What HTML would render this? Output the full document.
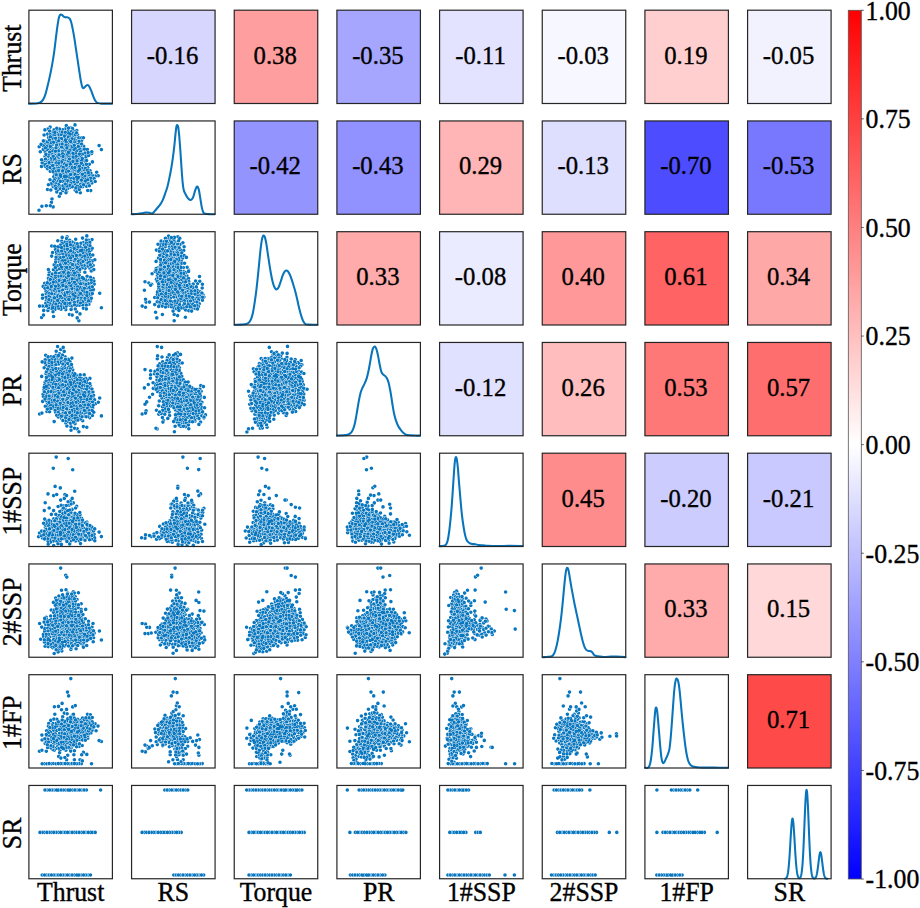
<!DOCTYPE html><html><head><meta charset="utf-8"><style>html,body{margin:0;padding:0;background:#fff;}svg{display:block;}text{font-family:"Liberation Serif",serif;stroke:#000;stroke-width:0.35px;}</style></head><body>
<svg width="920" height="908" viewBox="0 0 920 908">
<rect width="920" height="908" fill="#fff"/>
<rect x="131.57" y="10.20" width="83.5" height="93.3" fill="#d6d6ff"/>
<text transform="translate(172.52,63.65) scale(1,1.02)" font-size="24.7" text-anchor="middle">-0.16</text>
<rect x="234.24" y="10.20" width="83.5" height="93.3" fill="#ff9e9e"/>
<text transform="translate(275.19,63.65) scale(1,1.02)" font-size="24.7" text-anchor="middle">0.38</text>
<rect x="336.91" y="10.20" width="83.5" height="93.3" fill="#a6a6ff"/>
<text transform="translate(377.86,63.65) scale(1,1.02)" font-size="24.7" text-anchor="middle">-0.35</text>
<rect x="439.58" y="10.20" width="83.5" height="93.3" fill="#e3e3ff"/>
<text transform="translate(480.53,63.65) scale(1,1.02)" font-size="24.7" text-anchor="middle">-0.11</text>
<rect x="542.25" y="10.20" width="83.5" height="93.3" fill="#f7f7ff"/>
<text transform="translate(583.20,63.65) scale(1,1.02)" font-size="24.7" text-anchor="middle">-0.03</text>
<rect x="644.92" y="10.20" width="83.5" height="93.3" fill="#ffcfcf"/>
<text transform="translate(685.87,63.65) scale(1,1.02)" font-size="24.7" text-anchor="middle">0.19</text>
<rect x="747.59" y="10.20" width="83.5" height="93.3" fill="#f2f2ff"/>
<text transform="translate(788.54,63.65) scale(1,1.02)" font-size="24.7" text-anchor="middle">-0.05</text>
<rect x="234.24" y="120.95" width="83.5" height="93.3" fill="#9494ff"/>
<text transform="translate(275.19,174.40) scale(1,1.02)" font-size="24.7" text-anchor="middle">-0.42</text>
<rect x="336.91" y="120.95" width="83.5" height="93.3" fill="#9191ff"/>
<text transform="translate(377.86,174.40) scale(1,1.02)" font-size="24.7" text-anchor="middle">-0.43</text>
<rect x="439.58" y="120.95" width="83.5" height="93.3" fill="#ffb5b5"/>
<text transform="translate(480.53,174.40) scale(1,1.02)" font-size="24.7" text-anchor="middle">0.29</text>
<rect x="542.25" y="120.95" width="83.5" height="93.3" fill="#dedeff"/>
<text transform="translate(583.20,174.40) scale(1,1.02)" font-size="24.7" text-anchor="middle">-0.13</text>
<rect x="644.92" y="120.95" width="83.5" height="93.3" fill="#4d4dff"/>
<text transform="translate(685.87,174.40) scale(1,1.02)" font-size="24.7" text-anchor="middle">-0.70</text>
<rect x="747.59" y="120.95" width="83.5" height="93.3" fill="#7878ff"/>
<text transform="translate(788.54,174.40) scale(1,1.02)" font-size="24.7" text-anchor="middle">-0.53</text>
<rect x="336.91" y="231.70" width="83.5" height="93.3" fill="#ffabab"/>
<text transform="translate(377.86,285.15) scale(1,1.02)" font-size="24.7" text-anchor="middle">0.33</text>
<rect x="439.58" y="231.70" width="83.5" height="93.3" fill="#ebebff"/>
<text transform="translate(480.53,285.15) scale(1,1.02)" font-size="24.7" text-anchor="middle">-0.08</text>
<rect x="542.25" y="231.70" width="83.5" height="93.3" fill="#ff9999"/>
<text transform="translate(583.20,285.15) scale(1,1.02)" font-size="24.7" text-anchor="middle">0.40</text>
<rect x="644.92" y="231.70" width="83.5" height="93.3" fill="#ff6363"/>
<text transform="translate(685.87,285.15) scale(1,1.02)" font-size="24.7" text-anchor="middle">0.61</text>
<rect x="747.59" y="231.70" width="83.5" height="93.3" fill="#ffa8a8"/>
<text transform="translate(788.54,285.15) scale(1,1.02)" font-size="24.7" text-anchor="middle">0.34</text>
<rect x="439.58" y="342.45" width="83.5" height="93.3" fill="#e0e0ff"/>
<text transform="translate(480.53,395.90) scale(1,1.02)" font-size="24.7" text-anchor="middle">-0.12</text>
<rect x="542.25" y="342.45" width="83.5" height="93.3" fill="#ffbdbd"/>
<text transform="translate(583.20,395.90) scale(1,1.02)" font-size="24.7" text-anchor="middle">0.26</text>
<rect x="644.92" y="342.45" width="83.5" height="93.3" fill="#ff7878"/>
<text transform="translate(685.87,395.90) scale(1,1.02)" font-size="24.7" text-anchor="middle">0.53</text>
<rect x="747.59" y="342.45" width="83.5" height="93.3" fill="#ff6e6e"/>
<text transform="translate(788.54,395.90) scale(1,1.02)" font-size="24.7" text-anchor="middle">0.57</text>
<rect x="542.25" y="453.20" width="83.5" height="93.3" fill="#ff8c8c"/>
<text transform="translate(583.20,506.65) scale(1,1.02)" font-size="24.7" text-anchor="middle">0.45</text>
<rect x="644.92" y="453.20" width="83.5" height="93.3" fill="#ccccff"/>
<text transform="translate(685.87,506.65) scale(1,1.02)" font-size="24.7" text-anchor="middle">-0.20</text>
<rect x="747.59" y="453.20" width="83.5" height="93.3" fill="#c9c9ff"/>
<text transform="translate(788.54,506.65) scale(1,1.02)" font-size="24.7" text-anchor="middle">-0.21</text>
<rect x="644.92" y="563.95" width="83.5" height="93.3" fill="#ffabab"/>
<text transform="translate(685.87,617.40) scale(1,1.02)" font-size="24.7" text-anchor="middle">0.33</text>
<rect x="747.59" y="563.95" width="83.5" height="93.3" fill="#ffd9d9"/>
<text transform="translate(788.54,617.40) scale(1,1.02)" font-size="24.7" text-anchor="middle">0.15</text>
<rect x="747.59" y="674.70" width="83.5" height="93.3" fill="#ff4a4a"/>
<text transform="translate(788.54,728.15) scale(1,1.02)" font-size="24.7" text-anchor="middle">0.71</text>
<path d="M28.93,103.63C30.15,103.59 34.36,103.59 36.23,103.40C38.11,103.22 39.04,103.09 40.17,102.51C41.29,101.93 42.13,101.20 42.97,99.92C43.82,98.65 44.47,97.11 45.22,94.87C45.97,92.62 46.72,89.44 47.47,86.44C48.22,83.45 48.96,80.36 49.71,76.89C50.46,73.43 51.25,69.59 51.96,65.66C52.67,61.73 53.38,57.42 53.98,53.30C54.58,49.18 55.09,44.69 55.55,40.95C56.02,37.20 56.40,33.83 56.79,30.84C57.18,27.84 57.54,25.26 57.91,22.97C58.29,20.69 58.63,18.52 59.04,17.13C59.45,15.75 59.92,15.04 60.39,14.66C60.85,14.29 61.28,14.57 61.85,14.89C62.41,15.20 63.16,16.16 63.76,16.57C64.35,16.98 64.79,17.23 65.44,17.36C66.10,17.49 66.98,17.13 67.69,17.36C68.40,17.58 69.11,17.86 69.71,18.70C70.31,19.55 70.78,20.67 71.28,22.41C71.79,24.15 72.22,26.44 72.74,29.15C73.27,31.87 73.87,35.24 74.43,38.70C74.99,42.16 75.55,46.19 76.11,49.93C76.67,53.68 77.24,57.42 77.80,61.17C78.36,64.91 78.96,69.03 79.48,72.40C80.01,75.77 80.47,78.95 80.94,81.39C81.41,83.82 81.84,85.88 82.29,87.00C82.74,88.13 83.08,88.28 83.64,88.13C84.20,87.98 84.99,86.63 85.66,86.11C86.33,85.58 87.08,84.93 87.68,84.98C88.28,85.04 88.69,85.54 89.26,86.44C89.82,87.34 90.43,88.88 91.05,90.37C91.67,91.87 92.33,93.84 92.96,95.43C93.60,97.02 94.22,98.74 94.87,99.92C95.53,101.10 96.00,101.93 96.89,102.51C97.79,103.09 98.77,103.22 100.26,103.40C101.76,103.59 103.91,103.59 105.88,103.63C107.85,103.67 111.03,103.63 112.06,103.63" fill="none" stroke="#0874bb" stroke-width="2.05" stroke-linejoin="round" stroke-linecap="round"/>
<path d="M131.72,214.17C132.80,214.11 136.40,214.00 138.23,213.83C140.07,213.66 141.42,213.38 142.73,213.16C144.04,212.93 144.97,212.56 146.10,212.48C147.22,212.41 148.44,212.56 149.47,212.71C150.50,212.86 151.43,213.61 152.28,213.38C153.12,213.16 153.68,212.26 154.52,211.36C155.36,210.46 156.39,209.11 157.33,207.99C158.27,206.87 159.20,206.02 160.14,204.62C161.07,203.22 162.10,201.44 162.95,199.57C163.79,197.69 164.44,195.54 165.19,193.39C165.94,191.23 166.73,189.27 167.44,186.65C168.15,184.03 168.81,180.84 169.46,177.66C170.12,174.48 170.77,171.11 171.37,167.55C171.97,163.99 172.55,160.06 173.06,156.32C173.56,152.57 173.99,148.83 174.41,145.08C174.82,141.34 175.19,136.94 175.53,133.85C175.87,130.76 176.13,128.01 176.43,126.55C176.73,125.09 177.03,124.99 177.33,125.09C177.63,125.18 177.91,125.28 178.22,127.11C178.54,128.94 178.88,132.17 179.24,136.10C179.59,140.03 179.98,145.46 180.36,150.70C180.73,155.94 181.11,162.31 181.48,167.55C181.86,172.79 182.23,178.41 182.61,182.15C182.98,185.90 183.26,188.05 183.73,190.02C184.20,191.98 184.76,192.64 185.41,193.95C186.07,195.26 186.91,196.89 187.66,197.88C188.41,198.87 189.25,199.62 189.91,199.90C190.56,200.18 191.03,200.09 191.59,199.57C192.15,199.04 192.72,198.16 193.28,196.76C193.84,195.35 194.40,192.79 194.96,191.14C195.52,189.49 196.18,187.58 196.65,186.87C197.12,186.16 197.40,186.35 197.77,186.87C198.15,187.40 198.48,188.18 198.89,190.02C199.31,191.85 199.77,195.07 200.24,197.88C200.71,200.69 201.18,204.43 201.70,206.87C202.23,209.30 202.73,211.32 203.39,212.48C204.04,213.64 204.51,213.55 205.63,213.83C206.76,214.11 208.63,214.11 210.13,214.17C211.63,214.23 213.87,214.17 214.62,214.17" fill="none" stroke="#0874bb" stroke-width="2.05" stroke-linejoin="round" stroke-linecap="round"/>
<path d="M234.72,324.83C235.80,324.79 239.31,324.74 241.23,324.61C243.16,324.48 244.98,324.42 246.29,324.05C247.60,323.67 248.25,323.30 249.10,322.36C249.94,321.42 250.69,320.11 251.34,318.43C252.00,316.74 252.47,314.97 253.03,312.25C253.59,309.54 254.15,305.89 254.71,302.14C255.28,298.40 255.87,294.09 256.40,289.78C256.92,285.48 257.39,280.80 257.86,276.30C258.33,271.81 258.76,267.32 259.21,262.82C259.66,258.33 260.12,253.09 260.55,249.34C260.99,245.60 261.40,242.57 261.79,240.36C262.18,238.15 262.54,236.84 262.91,236.09C263.29,235.34 263.66,235.53 264.04,235.86C264.41,236.20 264.75,236.61 265.16,238.11C265.57,239.61 266.04,242.04 266.51,244.85C266.98,247.66 267.46,251.59 267.97,254.96C268.47,258.33 269.04,261.89 269.54,265.07C270.05,268.25 270.48,271.25 271.00,274.06C271.53,276.87 272.13,279.77 272.69,281.92C273.25,284.07 273.81,285.76 274.37,286.98C274.93,288.19 275.50,288.94 276.06,289.22C276.62,289.50 277.18,289.32 277.74,288.66C278.30,288.01 278.87,286.69 279.43,285.29C279.99,283.89 280.55,281.92 281.11,280.24C281.67,278.55 282.24,276.58 282.80,275.18C283.36,273.78 283.92,272.60 284.48,271.81C285.04,271.02 285.61,270.56 286.17,270.46C286.73,270.37 287.29,270.65 287.85,271.25C288.41,271.85 288.92,272.75 289.54,274.06C290.16,275.37 290.90,277.24 291.56,279.11C292.21,280.98 292.87,283.32 293.47,285.29C294.07,287.26 294.59,288.85 295.15,290.91C295.72,292.97 296.28,295.21 296.84,297.65C297.40,300.08 297.96,303.08 298.52,305.51C299.09,307.94 299.65,310.19 300.21,312.25C300.77,314.31 301.33,316.28 301.89,317.87C302.46,319.46 302.98,320.77 303.58,321.80C304.18,322.83 304.65,323.58 305.49,324.05C306.33,324.51 307.36,324.48 308.63,324.61C309.91,324.74 311.67,324.79 313.13,324.83C314.59,324.87 316.68,324.83 317.40,324.83" fill="none" stroke="#0874bb" stroke-width="2.05" stroke-linejoin="round" stroke-linecap="round"/>
<path d="M336.93,435.61C337.96,435.57 341.33,435.53 343.11,435.38C344.89,435.23 346.29,435.14 347.60,434.71C348.91,434.28 350.04,433.77 350.97,432.80C351.91,431.83 352.56,430.46 353.22,428.87C353.88,427.28 354.38,425.50 354.91,423.25C355.43,421.00 355.90,418.01 356.37,415.39C356.83,412.77 357.26,410.15 357.71,407.52C358.16,404.90 358.59,402.09 359.06,399.66C359.53,397.23 360.00,394.79 360.52,392.92C361.05,391.05 361.55,389.92 362.21,388.43C362.86,386.93 363.70,385.62 364.45,383.93C365.20,382.25 366.05,380.38 366.70,378.32C367.36,376.26 367.86,374.01 368.39,371.58C368.91,369.14 369.34,366.52 369.85,363.71C370.35,360.91 370.91,357.25 371.42,354.73C371.92,352.20 372.39,349.90 372.88,348.55C373.37,347.20 373.87,346.83 374.34,346.64C374.81,346.45 375.24,346.64 375.69,347.43C376.14,348.21 376.57,349.58 377.04,351.36C377.50,353.14 378.01,355.66 378.50,358.10C378.98,360.53 379.49,363.71 379.96,365.96C380.42,368.21 380.80,370.17 381.30,371.58C381.81,372.98 382.33,373.64 382.99,374.39C383.64,375.13 384.58,375.42 385.24,376.07C385.89,376.73 386.36,377.19 386.92,378.32C387.48,379.44 388.08,380.94 388.61,382.81C389.13,384.68 389.60,387.12 390.07,389.55C390.53,391.98 390.96,394.61 391.41,397.41C391.86,400.22 392.29,403.59 392.76,406.40C393.23,409.21 393.70,411.92 394.22,414.26C394.75,416.60 395.29,418.57 395.91,420.44C396.53,422.31 397.18,424.00 397.93,425.50C398.68,427.00 399.52,428.21 400.40,429.43C401.28,430.65 402.27,431.92 403.21,432.80C404.15,433.68 404.80,434.28 406.02,434.71C407.23,435.14 408.83,435.23 410.51,435.38C412.20,435.53 414.54,435.57 416.13,435.61C417.72,435.64 419.40,435.61 420.06,435.61" fill="none" stroke="#0874bb" stroke-width="2.05" stroke-linejoin="round" stroke-linecap="round"/>
<path d="M439.59,546.17C440.31,546.11 442.78,546.11 443.86,545.83C444.95,545.55 445.45,545.46 446.11,544.48C446.77,543.51 447.27,542.24 447.80,539.99C448.32,537.74 448.79,534.56 449.26,531.00C449.72,527.45 450.15,523.33 450.60,518.65C451.05,513.97 451.54,508.35 451.95,502.92C452.36,497.49 452.70,491.69 453.07,486.07C453.45,480.45 453.86,473.62 454.20,469.22C454.54,464.82 454.82,461.69 455.10,459.67C455.38,457.65 455.60,457.18 455.88,457.09C456.16,456.99 456.44,457.28 456.78,459.11C457.12,460.94 457.53,464.17 457.91,468.10C458.28,472.03 458.60,477.46 459.03,482.70C459.46,487.94 460.02,494.31 460.49,499.55C460.96,504.79 461.33,509.66 461.84,514.15C462.34,518.65 462.96,522.95 463.52,526.51C464.08,530.07 464.65,533.16 465.21,535.50C465.77,537.84 466.24,539.34 466.89,540.55C467.55,541.77 468.30,542.24 469.14,542.80C469.98,543.36 470.92,543.68 471.95,543.92C472.98,544.17 474.19,544.07 475.32,544.26C476.44,544.45 477.38,544.86 478.69,545.05C480.00,545.23 481.68,545.25 483.18,545.38C484.68,545.51 485.24,545.72 487.67,545.83C490.11,545.94 494.23,546.06 497.78,546.06C501.34,546.06 504.90,545.83 509.02,545.83C513.14,545.83 520.25,546.02 522.50,546.06" fill="none" stroke="#0874bb" stroke-width="2.05" stroke-linejoin="round" stroke-linecap="round"/>
<path d="M542.72,657.17C543.62,657.11 546.56,657.02 548.11,656.83C549.66,656.64 551.01,656.64 552.04,656.05C553.07,655.45 553.63,654.55 554.29,653.24C554.94,651.93 555.41,650.24 555.97,648.18C556.54,646.12 557.10,643.78 557.66,640.88C558.22,637.98 558.78,634.52 559.34,630.77C559.91,627.03 560.50,622.72 561.03,618.41C561.55,614.11 562.02,609.61 562.49,604.93C562.96,600.25 563.39,595.01 563.84,590.33C564.29,585.65 564.77,580.31 565.18,576.85C565.60,573.39 565.97,571.05 566.31,569.55C566.65,568.05 566.87,567.86 567.21,567.86C567.54,567.86 567.92,568.05 568.33,569.55C568.74,571.05 569.21,574.14 569.68,576.85C570.15,579.56 570.61,582.84 571.14,585.84C571.66,588.83 572.26,591.83 572.82,594.82C573.39,597.82 573.95,601.00 574.51,603.81C575.07,606.62 575.63,609.05 576.19,611.67C576.76,614.29 577.32,616.92 577.88,619.54C578.44,622.16 579.00,624.78 579.56,627.40C580.13,630.02 580.69,632.83 581.25,635.26C581.81,637.70 582.37,640.04 582.93,642.00C583.50,643.97 584.06,645.75 584.62,647.06C585.18,648.37 585.65,649.21 586.30,649.87C586.96,650.52 587.80,650.77 588.55,650.99C589.30,651.22 590.14,650.93 590.80,651.22C591.45,651.50 591.92,652.06 592.48,652.68C593.04,653.29 593.51,654.36 594.17,654.92C594.82,655.48 595.29,655.76 596.41,656.05C597.54,656.33 599.41,656.46 600.91,656.61C602.41,656.76 603.72,656.94 605.40,656.94C607.09,656.94 609.15,656.66 611.02,656.61C612.89,656.55 614.95,656.57 616.63,656.61C618.32,656.64 619.67,656.74 621.13,656.83C622.59,656.93 624.68,657.11 625.40,657.17" fill="none" stroke="#0874bb" stroke-width="2.05" stroke-linejoin="round" stroke-linecap="round"/>
<path d="M644.93,767.83C645.40,767.83 646.99,768.15 647.74,767.83C648.49,767.51 648.90,767.27 649.43,765.92C649.95,764.57 650.42,762.65 650.89,759.74C651.35,756.84 651.82,752.82 652.23,748.51C652.65,744.20 652.98,738.78 653.36,733.91C653.73,729.04 654.14,723.33 654.48,719.30C654.82,715.28 655.10,711.72 655.38,709.76C655.66,707.79 655.88,707.42 656.17,707.51C656.45,707.60 656.75,708.16 657.06,710.32C657.38,712.47 657.72,716.50 658.07,720.43C658.43,724.36 658.82,729.41 659.20,733.91C659.57,738.40 659.93,743.27 660.32,747.39C660.71,751.51 661.13,756.04 661.56,758.62C661.99,761.20 662.44,762.33 662.91,762.89C663.37,763.45 663.86,762.70 664.37,761.99C664.87,761.28 665.38,759.84 665.94,758.62C666.50,757.40 667.17,756.19 667.74,754.69C668.30,753.19 668.86,751.97 669.31,749.63C669.76,747.29 670.06,744.39 670.43,740.65C670.81,736.90 671.18,732.03 671.55,727.17C671.93,722.30 672.30,716.68 672.68,711.44C673.05,706.20 673.43,700.21 673.80,695.71C674.18,691.22 674.55,687.25 674.92,684.48C675.30,681.71 675.67,680.02 676.05,679.09C676.42,678.15 676.80,678.43 677.17,678.86C677.55,679.29 677.92,679.99 678.29,681.67C678.67,683.36 679.04,685.88 679.42,688.97C679.79,692.06 680.17,696.28 680.54,700.21C680.92,704.14 681.29,708.63 681.67,712.56C682.04,716.50 682.40,720.05 682.79,723.80C683.18,727.54 683.59,731.29 684.02,735.03C684.45,738.78 684.90,742.89 685.37,746.26C685.84,749.63 686.33,752.72 686.83,755.25C687.34,757.78 687.81,759.84 688.41,761.43C689.00,763.02 689.72,763.96 690.43,764.80C691.14,765.64 691.55,766.07 692.67,766.48C693.80,766.90 695.48,767.08 697.17,767.27C698.85,767.46 699.98,767.55 702.78,767.61C705.59,767.66 709.80,767.57 714.02,767.61C718.23,767.64 725.72,767.79 728.06,767.83" fill="none" stroke="#0874bb" stroke-width="2.05" stroke-linejoin="round" stroke-linecap="round"/>
<path d="M785.00,878.71 L785.34,878.62 L785.68,878.48 L786.01,878.26 L786.35,877.92 L786.69,877.41 L787.02,876.66 L787.36,875.61 L787.70,874.17 L788.04,872.25 L788.37,869.77 L788.71,866.67 L789.05,862.89 L789.38,858.47 L789.72,853.45 L790.06,847.98 L790.39,842.24 L790.73,836.52 L791.07,831.10 L791.41,826.31 L791.74,822.47 L792.08,819.83 L792.42,818.59 L792.75,818.84 L793.09,820.56 L793.43,823.63 L793.76,827.82 L794.10,832.85 L794.44,838.41 L794.78,844.17 L795.11,849.84 L795.45,855.18 L795.79,860.01 L796.12,864.23 L796.46,867.77 L796.80,870.67 L797.13,872.95 L797.47,874.69 L797.81,875.98 L798.15,876.90 L798.48,877.53 L798.82,877.93 L799.16,878.13 L799.49,878.17 L799.83,878.05 L800.17,877.74 L800.50,877.21 L800.84,876.38 L801.18,875.16 L801.52,873.44 L801.85,871.10 L802.19,868.01 L802.53,864.05 L802.86,859.14 L803.20,853.25 L803.54,846.42 L803.87,838.77 L804.21,830.53 L804.55,822.03 L804.89,813.68 L805.22,805.95 L805.56,799.31 L805.90,794.19 L806.23,790.97 L806.57,789.86 L806.91,790.97 L807.24,794.19 L807.58,799.31 L807.92,805.95 L808.26,813.68 L808.59,822.03 L808.93,830.53 L809.27,838.77 L809.60,846.42 L809.94,853.25 L810.28,859.14 L810.61,864.05 L810.95,868.01 L811.29,871.10 L811.63,873.45 L811.96,875.17 L812.30,876.40 L812.64,877.26 L812.97,877.83 L813.31,878.20 L813.65,878.42 L813.98,878.52 L814.32,878.54 L814.66,878.47 L815.00,878.30 L815.33,878.01 L815.67,877.56 L816.01,876.91 L816.34,876.00 L816.68,874.79 L817.02,873.22 L817.35,871.29 L817.69,869.00 L818.03,866.42 L818.37,863.63 L818.70,860.79 L819.04,858.08 L819.38,855.69 L819.71,853.82 L820.05,852.62 L820.39,852.21 L820.72,852.62 L821.06,853.82 L821.40,855.69 L821.74,858.08 L822.07,860.79 L822.41,863.63 L822.75,866.42 L823.08,869.00 L823.42,871.29 L823.76,873.22 L824.09,874.79 L824.43,876.00 L824.77,876.92 L825.11,877.57 L825.44,878.03 L825.78,878.34 L826.12,878.54 L826.45,878.66 L826.79,878.74 L827.13,878.78 L827.46,878.80" fill="none" stroke="#0874bb" stroke-width="2.05" stroke-linejoin="round" stroke-linecap="round"/>
<defs>
<path id="L0" d="M820 1497h0m-50-89h0m-64 165h0m-19-154h0m-17 170h0m-33-246h0m-71 67h0m-2-50h0m-36 81h0m10 327h0m6-35h0m24 187h0m16-28h0m227-181h0m-257 785h0m15 207h0m12-136h0m13 50h0m199 101h0m771 76h0m44-362h0m73 3h0m71 334h0m45-136h0m6 24h0m5-71h0m185 452h0m-59-139h0m-28-4h0m-15 29h0m-76 17h0m-47-128h0m-81 41h0m-15-36h0m-26 234h0m-17-23h0m-18-142h0m-150 134h0m-624-177h0m-2 20h0m-1 169h0m-9-101h0m-93-21h0m-29-100h0m-18 138h0m-126-109h0m-23 325h0m-46-256h0m-27 100h0m-6 543h0m115 44h0m2194-72h0m253 124h0m-23-8h0m-16-15h0m-117 42h0m-17-47h0m-10 27h0m-69 320h0m-46-218h0m-24-131h0m-102 153h0m-28 97h0m-787 9h0m-12-16h0m-17-53h0m-78 126h0m-190-89h0m-567 97h0m-53-2h0m-40-38h0m-134 96h0m-17-84h0m-18-215h0m-44 221h0m-3-149h0m-39-12h0m-29-37h0m-56 163h0m-13-254h0m-16 312h0m239 204h0m79 142h0m41-259h0m14 178h0m83-169h0m661 250h0m131-253h0m45-12h0m9 77h0m14 118h0m26-97h0m0 110h0m4-191h0m26 89h0m28 41h0m10-69h0m19 36h0m87-119h0m36 201h0m920-154h0m31 49h0m-2376 1052h0m60-108h0m17 100h0m1089-158h0m98-56h0m6 250h0m878-53h0m74 32h0m792-112h0m130 120h0m18-153h0m162 51h0m-34 229h0m-46-95h0m-75 124h0m-19-132h0m-720 84h0m-135-62h0m-15 33h0m-17 166h0m-3-174h0m-30 24h0m-63 45h0m-2 83h0m-162-141h0m-630 130h0m-10-125h0m-119-63h0m-916 123h0m-102-10h0m-37-93h0m-14 184h0m-55-113h0m-173-77h0m-12 153h0m3314 581h0m729 205h0m-610 235h0m-48-18h0m-11-163h0m-57 40h0m-19 117h0m-6-123h0m-61-21h0m-8-54h0m-18-12h0m-124 154h0m-25 77h0m-566-160h0m-60-41h0m-22-2h0m-39 18h0m-30 64h0m-58-32h0m-4 148h0m-2-266h0m-15 125h0m-35-203h0m-730 286h0m-11-46h0m-132-51h0m-3-42h0m-2 116h0m-64-198h0m-127 196h0m-177-29h0m-575-4h0m-19 85h0m-39-28h0m-122-135h0m-12-90h0m-56-34h0m-22 311h0m-17-9h0m-26-147h0m-14 111h0m-157 34h0m-2-24h0m139 127h0m133-58h0m106 23h0m1000-25h0m118 69h0m880-52h0m795-16h0m281 56h0m589 51h0m80-78h0m66 13h0m-879 616h0m-3198-3h0m-77 300h0m90 21h0m15-104h0m50 105h0m28-153h0m16 361h0m45-117h0m142-159h0m602 198h0m17-56h0m101-17h0m33-64h0m21-97h0m31 47h0m52-12h0m38 171h0m25-136h0m15-120h0m190 115h0m580 10h0m74 6h0m105-152h0m232 69h0m615 225h0m61-1h0m55-29h0m338-119h0m635-154h0m13 323h0m78-54h0m79-70h0m810-13h0m20 120h0m200-176h0m1002 565h0m-3169 0h0m-710 0h0m-483 0h0m-491-264h0m-161 1h0m-1231 687h0m1113 0h0m816 0h0m2100 0h0m1971 0h0m-3034 426h0m-3036 0h0"/>
<path id="L1" d="M593 1374h0m-141 61h0m157 254h0m15 64h0m7 39h0m16 19h0m81-50h0m155 16h0m84-55h0m-352 905h0m3-217h0m23 371h0m21-27h0m98-244h0m49 284h0m38-173h0m59-55h0m811 125h0m33 58h0m15-51h0m168 177h0m-3 208h0m-49-191h0m-48 163h0m-57 4h0m-80-238h0m-41 90h0m-80 8h0m-2 29h0m-706 45h0m-82 1h0m-103-126h0m-11-42h0m-115 247h0m-7 22h0m-45-141h0m-33 635h0m2562 259h0m-10-35h0m-66 185h0m-57-285h0m-17 141h0m-56 43h0m-65 89h0m-36-83h0m-48-292h0m-8 373h0m0-54h0m-41-300h0m-66 292h0m-682 21h0m-11-68h0m-76 25h0m-1-91h0m-111 97h0m-21-227h0m-7 73h0m-12 240h0m-41-96h0m-736 18h0m-77 72h0m-32-96h0m-103 32h0m-24 46h0m-71-63h0m-11-280h0m-48 154h0m-65 185h0m182 78h0m124 90h0m5 151h0m819-180h0m181-56h0m74 171h0m15-159h0m44 114h0m1163-171h0m-2549 1078h0m59-216h0m98 81h0m46 234h0m60-13h0m1145-11h0m665 25h0m1004-73h0m525 246h0m-38-118h0m-96 127h0m-27 10h0m-49 34h0m-223-200h0m-1 125h0m-75-63h0m-36 61h0m-590 44h0m-126-50h0m-47-68h0m-75 5h0m-150 144h0m-627 1h0m-1 49h0m-12-199h0m-50 197h0m-49-155h0m-33 36h0m-23-28h0m-835 18h0m-137-104h0m-199 91h0m-62 100h0m-76-44h0m100 614h0m2235-2h0m90-52h0m72-25h0m1916 308h0m-10-19h0m-204 139h0m-35-58h0m-5-210h0m-7-39h0m-15 348h0m-11-271h0m-30 252h0m-19-316h0m-7 22h0m-649 173h0m-33 105h0m-9-52h0m-30 114h0m-108-242h0m-17 72h0m-29-81h0m-14 139h0m-19-41h0m-2 121h0m-87-21h0m-589-259h0m-14 31h0m-79 97h0m-20-27h0m-60 108h0m-51 22h0m-211-34h0m-40-10h0m-477-247h0m-28-21h0m-110 141h0m-187 228h0m-4-85h0m-102 35h0m-103-83h0m-574 94h0m-63 35h0m0-188h0m-105-142h0m-105 205h0m-4 55h0m-66-87h0m-31-52h0m-44 13h0m-16 141h0m79 164h0m148-71h0m92 16h0m29 2h0m1142-17h0m14 44h0m31 9h0m600 29h0m394-87h0m805 1h0m1879 786h0m-1140-9h0m-778-33h0m-30 14h0m-870-2h0m-1078-102h0m-22 116h0m-58 20h0m-1153 41h0m69 75h0m57 64h0m2 129h0m42-141h0m11-116h0m0 52h0m12 53h0m72-8h0m82 39h0m8-167h0m23 115h0m597 76h0m118-159h0m40 104h0m42 29h0m55 79h0m35 4h0m69 78h0m12-78h0m592-182h0m95 241h0m27 11h0m10-50h0m71 23h0m16-116h0m19 77h0m48-64h0m35-60h0m39-119h0m21 13h0m69 43h0m56 85h0m587 106h0m33-85h0m58-137h0m11 40h0m49-6h0m55 13h0m6 69h0m36 87h0m777-111h0m1361 42h0m-107 253h0m-93 264h0m-92 0h0m-852-263h0m-3991 0h0m746 687h0m253 0h0m2178 0h0m2686 0h0m92 0h0m138 0h0m-2427 426h0m-676 0h0m-1129 0h0m-115 0h0m-568 0h0m-1408 0h0"/>
<path id="L2" d="M860 1556h0m-1 23h0m-22-117h0m-79-24h0m-37-1h0m-2 157h0m-8-317h0m-6 262h0m-49-251h0m-47 285h0m0-38h0m-29-46h0m-78 223h0m106 148h0m56-182h0m40 126h0m29-147h0m61 91h0m84-72h0m-343 1086h0m1072-304h0m11 83h0m66 34h0m74-75h0m25 123h0m247 325h0m-196 133h0m-1-98h0m-205-83h0m-60 279h0m-649-332h0m-73 89h0m-21 54h0m-31 62h0m-22-19h0m-293 71h0m2236 414h0m45 34h0m7 22h0m239 86h0m-48-27h0m-44 256h0m-11-201h0m-40 257h0m-59-109h0m-16-55h0m-3 95h0m-59-216h0m-33 285h0m-19-99h0m-38 43h0m-8-93h0m-7-123h0m-609 240h0m-368-200h0m-74 86h0m-126 80h0m-539-22h0m-16 60h0m-108-38h0m-36-30h0m-44 102h0m-28-150h0m-7-183h0m-61 378h0m-1-313h0m-42 52h0m-49 124h0m-5 83h0m-23-118h0m-1 245h0m164-58h0m15 19h0m6 229h0m228-81h0m25-33h0m528-103h0m17-23h0m278-12h0m195 53h0m12 23h0m15 96h0m18-146h0m540 250h0m46-130h0m12 99h0m10-123h0m26 2h0m33 26h0m160-71h0m-2121 967h0m42-24h0m1069 141h0m998 26h0m766-169h0m24 8h0m88 96h0m135 270h0m-21-151h0m-3-46h0m-261 53h0m-503 75h0m-146-42h0m-19-60h0m-171 144h0m-20 13h0m-11-180h0m-23 223h0m-633-108h0m-54-76h0m-143 89h0m-93-22h0m-809 63h0m-107-117h0m-6 113h0m-73-94h0m-263-4h0m3347 680h0m770-34h0m199 332h0m-128 15h0m-8 63h0m-35-244h0m-29 3h0m-4 121h0m-13 159h0m-11-49h0m-12-161h0m-9-23h0m-9 171h0m-486 12h0m-104-175h0m-22-9h0m-21 214h0m-27 39h0m-3-131h0m-15-226h0m-17 242h0m-8 22h0m-34 59h0m-21-251h0m-40 86h0m-58 53h0m-701-6h0m-53-24h0m0 156h0m-1-275h0m-13-65h0m-46 141h0m-88-151h0m-1 132h0m-49-74h0m-13 59h0m-6 35h0m-37 43h0m-77-101h0m-18 286h0m-612-45h0m-49-4h0m-84-15h0m0-191h0m-17 73h0m-91-45h0m-217 165h0m-541-5h0m-156-24h0m-1-181h0m-10 54h0m-24 161h0m-16-257h0m-76 96h0m-12-178h0m-3 294h0m-59-211h0m-7 365h0m99-19h0m32 63h0m1849-47h0m85-1h0m24 67h0m111-52h0m1123 43h0m658 684h0m-1597 1h0m-33-97h0m-2118 108h0m-35-8h0m-382 321h0m260-198h0m18-80h0m26 174h0m10 23h0m24-103h0m59 136h0m10-174h0m26 51h0m7 182h0m649-39h0m79-67h0m86-188h0m5 151h0m97-119h0m7 138h0m22 58h0m40 17h0m799-146h0m5 160h0m0-93h0m78 15h0m346-41h0m588 177h0m22-68h0m12 52h0m134-214h0m60 58h0m62-118h0m6-57h0m689 117h0m70 83h0m16 166h0m841-217h0m78-140h0m84 228h0m57-100h0m131 92h0m5 208h0m-3 263h0m-1141-264h0m-72 264h0m-2081 0h0m-92 424h0m1523 0h0m1860 0h0m-2139 426h0m-115 0h0m-23 0h0m-46 0h0m-761 0h0m-959 0h0m-971 0h0"/>
<path id="L3" d="M916 1535h0m-174-223h0m-60-10h0m-69 298h0m-32-14h0m-45-51h0m-8-216h0m-4 163h0m-14 78h0m-18 20h0m-4-143h0m44 430h0m33-48h0m53-176h0m14-25h0m99 229h0m62-216h0m30 95h0m-178 770h0m33 146h0m13 139h0m55-109h0m10-215h0m0 169h0m22 109h0m8-211h0m80-2h0m753 193h0m9-200h0m2-49h0m30 105h0m40-123h0m17 325h0m40-215h0m129 143h0m18 332h0m-55-65h0m-21 40h0m-77 43h0m-67 11h0m-195-232h0m-604-27h0m-39 208h0m-96-100h0m-111-71h0m-7 37h0m-21 30h0m-35 23h0m-56 51h0m-59-41h0m-2-30h0m1240 689h0m1253-3h0m18 382h0m-71-17h0m-31-218h0m-12 43h0m-47 82h0m-29 31h0m-16-210h0m-15-33h0m-20 269h0m-180-78h0m-706-6h0m-84-60h0m-93 35h0m-14 61h0m-119 7h0m-688 6h0m-176-181h0m-35 83h0m-142-159h0m0 373h0m151 155h0m15 69h0m100-184h0m121-24h0m872 241h0m19-132h0m55 113h0m100-206h0m624 105h0m89 44h0m33 85h0m241-244h0m-294 655h0m-744 0h0m-45-112h0m787 609h0m67-20h0m84 38h0m187-126h0m1028 151h0m-44 197h0m-47 13h0m-2-206h0m-63 54h0m-22-58h0m-27 153h0m-9-122h0m-50 29h0m-30-21h0m-31 128h0m-29-157h0m-7 26h0m-3 143h0m-632-19h0m-30 11h0m-22-166h0m-22 114h0m-12-125h0m-82-4h0m-66 0h0m-762 48h0m-64 56h0m-91-9h0m-96-17h0m-36 36h0m-5 87h0m-158-74h0m-697-58h0m-19 32h0m-231-78h0m-19-16h0m-56 83h0m215 614h0m2084 77h0m36-313h0m1808 301h0m282 328h0m-100 15h0m-20-51h0m-179-134h0m-24-45h0m-74-44h0m-30 213h0m-32 6h0m-569-15h0m-45-156h0m-42 236h0m-33 43h0m-16-192h0m-8 30h0m-18-35h0m-80 213h0m-34-89h0m-13 88h0m-12-91h0m0-101h0m-590-6h0m-71 162h0m-22-2h0m-26-159h0m-22-18h0m-31-134h0m-24 171h0m-120-97h0m-4 221h0m-31-182h0m-50-1h0m-138 236h0m-490-205h0m-12-31h0m-121 244h0m-75-309h0m-5 100h0m-56 65h0m-88 124h0m-18-140h0m-684 138h0m-27-78h0m-61 11h0m-13-99h0m-20-51h0m-106 80h0m-8-152h0m-19 169h0m-17-169h0m-1 278h0m-22-238h0m-129-29h0m105 409h0m3029-99h0m15 72h0m64 10h0m126-21h0m749-55h0m1251 651h0m-61 112h0m-7-48h0m-1184 51h0m-902-45h0m-19 61h0m-65-38h0m-699 37h0m-1196-66h0m-1256 382h0m17-121h0m66 89h0m21 1h0m182-163h0m104-51h0m28-19h0m704 91h0m8-102h0m134 150h0m840 177h0m112-300h0m38 58h0m21-83h0m79 74h0m228-37h0m510 276h0m63-88h0m103-40h0m123 128h0m76-160h0m571-14h0m12 63h0m51-188h0m0 118h0m24-96h0m1172 221h0m12 44h0m9-11h0m50-312h0m24 3h0m-699 416h0m-2472 263h0m-18-263h0m-1866-1h0m-206 688h0m322 0h0m23 0h0m1653 0h0m3176 0h0m-1072 426h0m-2173 0h0m-591 0h0m-1178 0h0"/>
<path id="L4" d="M776 1347h0m-51-62h0m-97 14h0m-2 286h0m-10-200h0m-91-26h0m-110 305h0m144 115h0m29-124h0m16 232h0m12-150h0m50 177h0m34-39h0m53-35h0m45-109h0m-154 729h0m127 312h0m11-113h0m112-60h0m37 55h0m654-73h0m46 210h0m13-86h0m161 78h0m9-169h0m181 151h0m-43 242h0m-71 8h0m-67-192h0m-38 155h0m0-95h0m0 273h0m-180-116h0m-7-153h0m-684 124h0m-22-106h0m-179-25h0m-33 24h0m-9 39h0m-14-31h0m-47 93h0m-39-61h0m-58-114h0m-18 15h0m76 667h0m8 61h0m1205-10h0m1217 151h0m-116 15h0m-28 197h0m-9-78h0m-27-150h0m-35-26h0m-5-16h0m-62 212h0m-27 25h0m-13-173h0m-84 113h0m-630 145h0m-63-48h0m-54-38h0m-35 70h0m-10-330h0m-47 119h0m-49 215h0m-29 9h0m-71-240h0m-54 3h0m-727 217h0m-85-174h0m-12-36h0m-37-69h0m-13 165h0m-46-174h0m-7 216h0m-8-75h0m-72-149h0m57 354h0m23 171h0m93 118h0m75-275h0m6 19h0m55 94h0m26-19h0m887-84h0m62 11h0m946 7h0m16 76h0m165-73h0m55-4h0m-2360 930h0m1196 188h0m81-147h0m21 117h0m12-52h0m53-151h0m527 174h0m69-67h0m389 140h0m633-105h0m30 35h0m162 136h0m-103 100h0m-3 26h0m-101-148h0m-20 60h0m-25 93h0m-65-151h0m-23 95h0m-450 47h0m-115-11h0m-26 4h0m-68-32h0m-5-86h0m-52 48h0m-51 81h0m-200-84h0m-461-51h0m-434 131h0m-20 13h0m-700-78h0m-270-93h0m-87 239h0m70 226h0m1144 0h0m1161 74h0m867-74h0m1113 584h0m-92-23h0m-50 154h0m-83-113h0m-160-108h0m-497 99h0m-43-125h0m-25 146h0m-92-69h0m-16 154h0m-67-244h0m-20 69h0m-16-85h0m-6 143h0m-18-10h0m-74-32h0m-33-217h0m-678 88h0m-73 226h0m-2-170h0m-196 144h0m-63 104h0m-2-375h0m-63 363h0m-682-264h0m-141-38h0m0 282h0m-24-118h0m-779 72h0m-81 29h0m-11-210h0m-41 6h0m-43 56h0m-97 84h0m-26-219h0m-2 252h0m-3-199h0m-18 278h0m-13-259h0m-63 234h0m88 129h0m1099-51h0m39-6h0m264 51h0m960-92h0m626 34h0m352 15h0m18-27h0m587 13h0m1333 721h0m-1249-88h0m-707 102h0m-85 2h0m-953-252h0m-1080 215h0m-916 7h0m-189-184h0m-65 75h0m-130 261h0m17 27h0m0-118h0m47 229h0m118-114h0m4 234h0m123 44h0m103-363h0m592 240h0m109-173h0m6 117h0m23 12h0m12-161h0m136 29h0m10 70h0m13 155h0m26-165h0m24 127h0m798 76h0m41-331h0m87 34h0m121-34h0m47 40h0m29-6h0m550 277h0m97-338h0m53 204h0m38-163h0m28 21h0m73 136h0m680 110h0m93-270h0m23 141h0m1-21h0m63 103h0m953-210h0m145 170h0m33-43h0m-2132 255h0m-1180 2h0m-657-2h0m-152-18h0m-988 20h0m-183 686h0m2228 0h0m810 0h0m276 0h0m692 0h0m69 0h0m23 0h0m1007 0h0m171 426h0m-1013 0h0m-115 0h0m-2626 0h0"/>
<path id="L5" d="M874 1495h0m-30-4h0m-36-33h0m-35 45h0m-25 17h0m-60-128h0m-33 141h0m-154-262h0m-43 352h0m155 44h0m33-11h0m28 89h0m49 32h0m141-38h0m118 18h0m-62 639h0m-298-22h0m-232-272h0m136 423h0m96 169h0m11-70h0m17-204h0m182 62h0m689 255h0m167-119h0m55-29h0m233 246h0m-23 249h0m-149-164h0m-61-103h0m-1 328h0m-96-159h0m-788-85h0m-84 21h0m-57-4h0m-6-87h0m0 263h0m-6-153h0m-106-11h0m-44-10h0m-78 6h0m-30-94h0m148 707h0m2351 392h0m-41-278h0m-21 177h0m-1-80h0m-29 59h0m-10 83h0m-52-208h0m-8-47h0m-9 197h0m-69-110h0m-57 132h0m-62 1h0m-32 86h0m-58 17h0m-580 34h0m-99-232h0m-5 45h0m-14-17h0m-17 172h0m-60-132h0m-12-19h0m-67 2h0m-41-148h0m-1040 116h0m-16-7h0m-33 46h0m-2 150h0m-64-119h0m170 289h0m74-78h0m65 11h0m46 83h0m14-26h0m772 12h0m403-75h0m796-27h0m48 87h0m104-96h0m-358 540h0m-2067 573h0m22-38h0m169 55h0m16-67h0m46-31h0m1009 125h0m19-126h0m69 69h0m92 63h0m53-13h0m530-23h0m135-94h0m55 23h0m898 33h0m19 26h0m11 44h0m9-105h0m22 15h0m25 92h0m64-49h0m189 122h0m-216 54h0m-15-84h0m-80 202h0m-50-174h0m-787-32h0m-14-9h0m-41 3h0m-20 52h0m-64-18h0m-16 12h0m-131 86h0m-30 36h0m-588-157h0m-77 55h0m-31-67h0m-107-15h0m-18 175h0m-941-131h0m-47-41h0m-307 156h0m357 563h0m41-3h0m1884-10h0m182 41h0m1657 16h0m58-65h0m88 447h0m-139-317h0m-16 296h0m-2 42h0m-624-238h0m-46 7h0m-84 132h0m-28-261h0m-25 182h0m-6 119h0m-13 37h0m-35-97h0m-21 77h0m-63 3h0m-608 42h0m-91-292h0m-17-26h0m-161 221h0m-87-55h0m-674-41h0m-93 124h0m-92-132h0m-46 219h0m-27-129h0m-770-57h0m-87-27h0m-76-9h0m-22 29h0m-1 57h0m-10-22h0m-40-219h0m-31 285h0m-27-78h0m-28 148h0m-117-93h0m36 182h0m1289-35h0m88-10h0m1767 31h0m42-37h0m131 14h0m115-5h0m596 38h0m7 324h0m36 248h0m-774 0h0m-13 145h0m-761-33h0m-18-220h0m-266 256h0m-948-152h0m-104 150h0m-760 13h0m-5-46h0m-261-16h0m-177 177h0m67 135h0m63-36h0m4 96h0m82-52h0m3-118h0m108-115h0m33 160h0m807 27h0m41 3h0m315 145h0m521-147h0m45 50h0m23-199h0m99 103h0m83-107h0m68-8h0m786 75h0m143-117h0m4 45h0m67 3h0m83 127h0m108-26h0m474 61h0m13 152h0m8-342h0m30 78h0m11 35h0m66-111h0m42 19h0m9 77h0m25 7h0m213 144h0m677-210h0m47 302h0m24-238h0m22-112h0m80 79h0m114 276h0m36-205h0m-230 271h0m-1037 1h0m-72 264h0m-20-262h0m-1923 262h0m-138 0h0m-1764 0h0m-234 424h0m1228 0h0m1322 0h0m1502 0h0m1329 0h0m849 0h0m-862 426h0m-5047 0h0m-276 0h0"/>
<path id="L6" d="M816 1405h0m-102-88h0m-70 269h0m-59-115h0m-15-136h0m-5 166h0m-26 120h0m21 50h0m11 199h0m14-124h0m60-28h0m35-61h0m8 31h0m144 126h0m69-106h0m6 198h0m-236 462h0m-178 355h0m149-72h0m105-11h0m3-208h0m32 210h0m69 41h0m701 33h0m22 41h0m7-82h0m74 62h0m38-267h0m37 242h0m53 0h0m12-181h0m74 383h0m-24 121h0m-19-188h0m-27 58h0m-21 54h0m-16-15h0m-11-18h0m-13 150h0m-18-128h0m-265 45h0m-625-28h0m-32-59h0m-2-90h0m-82 201h0m-46-23h0m-101-91h0m-103-49h0m-19 208h0m238 532h0m937-24h0m1053 15h0m313 272h0m-8-120h0m-8 104h0m-51-119h0m-54 145h0m-38-107h0m-80-143h0m-97 292h0m-16 33h0m-61 23h0m-4-253h0m-569 268h0m-64 9h0m-225-63h0m-24-228h0m-754 280h0m-34-194h0m-179 132h0m-19-297h0m-102 127h0m-72 276h0m171 62h0m21 50h0m36 79h0m69-115h0m789 38h0m232 104h0m20-171h0m90-64h0m717 1h0m19 1h0m107 98h0m64 49h0m42-104h0m-2366 1139h0m167-182h0m31 150h0m1015-77h0m16-71h0m101 169h0m48-174h0m700 193h0m38-333h0m4 326h0m6-75h0m11 68h0m0-98h0m33 101h0m878-275h0m2 269h0m67-7h0m61-21h0m6-96h0m138 157h0m-50 59h0m-1 54h0m-27-58h0m-111 42h0m-92 7h0m-588-85h0m-79 49h0m-162-23h0m-68 150h0m-15-184h0m-731 159h0m-29-108h0m-54 8h0m-72 161h0m-82-178h0m-18-41h0m-735 154h0m-5-37h0m-29-47h0m-85 57h0m-3-126h0m-34 180h0m-149-20h0m-93-150h0m-4 47h0m45 677h0m29 29h0m135-21h0m2073-31h0m128-166h0m803 210h0m777-3h0m49-36h0m150 359h0m-25-179h0m0-67h0m-44 152h0m-52 123h0m-9-329h0m-60 103h0m-586 209h0m-39-134h0m-60 128h0m-6 60h0m-24-58h0m-20-298h0m-1 83h0m-23 238h0m-26-94h0m-84-30h0m-35 116h0m-13-165h0m-579 87h0m-83-28h0m-90 44h0m-38-262h0m-56 139h0m-24 204h0m-27 11h0m-24-131h0m-17 52h0m-89 104h0m-40-88h0m-560-49h0m-51 134h0m-26-235h0m-57 220h0m-86-101h0m-24 69h0m-30 67h0m-51-305h0m-162 239h0m-668 42h0m-32-335h0m-85 237h0m-29-98h0m-20 205h0m-25-179h0m-8 63h0m-13 49h0m1200 110h0m698-15h0m7 38h0m1029 12h0m164-24h0m142 9h0m678 713h0m-21-97h0m-772 9h0m-805 90h0m-170 40h0m-990-132h0m-1340 367h0m24 40h0m32-58h0m70 47h0m55-4h0m216-158h0m102-63h0m611 132h0m94-119h0m8 65h0m185 53h0m815 19h0m25 69h0m7-157h0m39 131h0m999-36h0m107-186h0m141 157h0m518 118h0m100-177h0m5-104h0m25 336h0m1065-232h0m23 26h0m46 111h0m21 9h0m16-231h0m32 33h0m6 110h0m-989 271h0m-161 1h0m-49 263h0m-23 0h0m-727 0h0m-1009 0h0m-1966-263h0m-470 1h0m2528 686h0m741 0h0m1939 426h0m-2818 0h0m-2367 0h0"/>
<path id="L7" d="M804 1514h0m-19-70h0m-35-195h0m-4 165h0m-54 66h0m-207-104h0m-5-86h0m-25 122h0m220 372h0m50-146h0m27 265h0m60-77h0m32-198h0m7 156h0m-362 967h0m23 24h0m56-229h0m52 231h0m23-102h0m11-100h0m2 158h0m13-215h0m46 249h0m12-147h0m59-45h0m46-149h0m100 360h0m720-318h0m13 238h0m53 26h0m32-311h0m4 307h0m116 32h0m-16 413h0m-118-268h0m-180 218h0m-652-202h0m-74-111h0m-22 44h0m-32 119h0m-89-167h0m-62 243h0m-12-167h0m-127-74h0m-28 224h0m2355 556h0m148 360h0m-12-104h0m0 26h0m-22 1h0m-111-50h0m-96 173h0m-17-194h0m-78 70h0m-73-77h0m-28 68h0m-715-129h0m-16-127h0m-56 283h0m-32-46h0m-39 50h0m-33-9h0m-19-70h0m-40 102h0m-17-45h0m-705 113h0m-6-132h0m-25-65h0m-27-7h0m-99-121h0m-30 211h0m-2-111h0m-1 143h0m-39-185h0m-16 187h0m-16-138h0m-60 190h0m-72-306h0m-63 491h0m228-117h0m86 245h0m91-169h0m857-89h0m38 146h0m84 0h0m131-28h0m81 0h0m705-50h0m122-48h0m42-24h0m-2258 1182h0m1242-85h0m38-3h0m116 55h0m612-78h0m40 69h0m261-100h0m700 138h0m143-39h0m34 24h0m24 12h0m17-112h0m-121 147h0m-2 116h0m-5-92h0m-15 149h0m-51 0h0m-7-55h0m-707 59h0m-17-92h0m-140 74h0m-31-70h0m-28 127h0m-16-140h0m-48 13h0m-111-79h0m-575 71h0m-83 63h0m-23 62h0m-17-195h0m-6 100h0m-95-56h0m-75 69h0m-768 22h0m-21-142h0m-204 59h0m-64 129h0m4462 684h0m-315 243h0m-99-106h0m-2 79h0m-2-227h0m-36 306h0m-26-131h0m-2-186h0m-3 223h0m-43-111h0m-552 125h0m-31 39h0m-124-294h0m-57 65h0m-38-31h0m-39 40h0m-1 120h0m-154 149h0m-632-255h0m-107 46h0m-8 164h0m-121-135h0m-73-15h0m-34 57h0m-3 60h0m-569 79h0m-23-153h0m-119 79h0m-18-177h0m-5 90h0m-812 165h0m-161-212h0m-64 141h0m-100 39h0m-26-77h0m-23 38h0m-84-70h0m-17 108h0m-88 95h0m383-3h0m1075-48h0m899-9h0m62 47h0m760 23h0m13-41h0m2099 711h0m-2796-84h0m-1186 130h0m-46-229h0m-990 192h0m-305 351h0m0-151h0m44 66h0m24-181h0m36 22h0m102 92h0m82 161h0m37 86h0m17-151h0m839-165h0m111 82h0m11-29h0m21-57h0m22 57h0m33-75h0m764 144h0m11 20h0m25-26h0m22 19h0m28 15h0m97-76h0m46-51h0m22-52h0m95 190h0m12-200h0m554 39h0m168 109h0m38 120h0m130-84h0m65-194h0m50 121h0m36-81h0m542 17h0m12 213h0m13-256h0m39 236h0m47-75h0m46-68h0m1104-109h0m117 46h0m12 17h0m28 39h0m-1258 568h0m-66-262h0m-72 262h0m-497 0h0m-23 0h0m-445-264h0m-1024 264h0m-1718 0h0m-304-263h0m3338 687h0m905 0h0m909 0h0m1125 0h0m-885 426h0m-276 0h0m-92 0h0m-714 0h0m-1113 0h0m-3059 0h0m-161 0h0"/>
<path id="L8" d="M768 1306h0m-18 67h0m-144 115h0m-16-140h0m-28-46h0m-78 260h0m-8-221h0m-84 127h0m135 135h0m78 122h0m30-51h0m4 69h0m-125 281h0m20 674h0m5 98h0m73-196h0m21 160h0m8-151h0m26-7h0m39-67h0m23 47h0m27 75h0m7 43h0m18 90h0m15-12h0m28-230h0m23-9h0m0-35h0m29 69h0m688-72h0m35 237h0m67-62h0m58 112h0m1-322h0m0 137h0m23-81h0m19 56h0m53 170h0m19-34h0m161 204h0m-48 64h0m-20-142h0m-73 100h0m-12-49h0m-21-9h0m-51 17h0m-121 171h0m-22-63h0m-137 14h0m-674-142h0m-11 125h0m-37-62h0m-20-49h0m-35 67h0m-63-137h0m918 764h0m101-11h0m1351 421h0m-9-39h0m-18-213h0m-84 248h0m-10-369h0m-26 186h0m-7 152h0m-6 21h0m-111-200h0m-65 179h0m-53-193h0m-861-11h0m-20 161h0m-34-150h0m-102 212h0m-22-293h0m-26 142h0m-121-134h0m-688 58h0m-52 127h0m-82 52h0m-81-132h0m-27-121h0m-58 328h0m59-7h0m68 105h0m307-99h0m756 107h0m156 150h0m15-178h0m9 87h0m9 39h0m113-53h0m639 40h0m203-178h0m-150 564h0m-2007 566h0m27-195h0m1053 219h0m308-51h0m583-121h0m78-122h0m33 289h0m880-62h0m4-101h0m67 152h0m116-220h0m207 424h0m-21-78h0m-97-18h0m-9 98h0m-3-124h0m-47 61h0m-94 24h0m-207-46h0m-746 59h0m-32 14h0m-122-111h0m-748-38h0m-21 52h0m-48 97h0m-117-12h0m-171 25h0m-692-86h0m-173 46h0m-170 1h0m193 665h0m4167 237h0m-94-30h0m-57 8h0m-50-21h0m-23-68h0m-30 277h0m-15-380h0m-707 330h0m-11-156h0m-44-137h0m-35 265h0m-54-35h0m-60-61h0m-67 136h0m-60-35h0m-477 53h0m-20-39h0m-7-25h0m-67 7h0m-44-34h0m-100-166h0m-6 108h0m-230 46h0m-64 81h0m-472-108h0m-137 58h0m-18 96h0m-9-29h0m-7-51h0m-22-285h0m-44 167h0m-20-173h0m-9 361h0m-25-141h0m-29 32h0m-42 1h0m-1 78h0m-71-7h0m-816-2h0m-46-106h0m-284 123h0m1199 108h0m144-25h0m144-19h0m616-12h0m85-19h0m901 132h0m158-18h0m2064 678h0m-1139-136h0m-822 90h0m-88-15h0m-864 43h0m-1127-59h0m-1250 148h0m170 93h0m21 9h0m17 23h0m11 68h0m55-20h0m119-78h0m792 25h0m25-133h0m8 297h0m2-279h0m29 98h0m21-2h0m60-64h0m42-14h0m139 109h0m538 6h0m11 23h0m50 132h0m47 24h0m8-365h0m75 72h0m61 142h0m93-141h0m54-78h0m3 208h0m656 39h0m5-189h0m24 144h0m61-138h0m19 118h0m13-58h0m16-26h0m11 109h0m45 22h0m4-191h0m27 24h0m90-4h0m596 275h0m29-269h0m8 219h0m22-59h0m66-230h0m950 377h0m23-12h0m43-121h0m2-92h0m2 114h0m224-233h0m293 102h0m-438 297h0m-3029 264h0m-46 0h0m-721-265h0m-23 3h0m-121 262h0m-780 0h0m-377-264h0m4421 1114h0m-2284 0h0m-1907 0h0"/>
<path id="L9" d="M918 1518h0m-102-78h0m-23 46h0m-69 21h0m-21-136h0m-250 292h0m21 23h0m69 113h0m376 30h0m34-68h0m785 639h0m-1254 296h0m39 44h0m156-324h0m6 201h0m30 100h0m94-284h0m59 167h0m37 173h0m762-47h0m30 42h0m7-93h0m63-55h0m17 166h0m187 114h0m-38 119h0m-200-141h0m-849 103h0m-125-107h0m-22 3h0m-12-58h0m-67 277h0m-7-208h0m-48-39h0m-63 94h0m-11-56h0m-3 114h0m-22 82h0m1213 498h0m25-374h0m951 267h0m114 84h0m105 32h0m70 366h0m-15-171h0m-9 105h0m-12-117h0m-27 168h0m-93-273h0m-50 284h0m-71-206h0m-11 75h0m-57 146h0m-23-250h0m-129 195h0m-508 37h0m-70 28h0m-43-38h0m-42-309h0m-76 198h0m-5-43h0m-58 18h0m-7 55h0m-79-219h0m-11 117h0m-791 133h0m-31 64h0m-17-41h0m-99 68h0m-13-107h0m-82 53h0m-63-261h0m-71 466h0m137-9h0m127 93h0m114-92h0m69-23h0m812 84h0m154-155h0m65 132h0m33-153h0m17 24h0m646 13h0m83 89h0m72-128h0m183 6h0m23 66h0m713 493h0m-3104 618h0m57-92h0m59 70h0m32-127h0m11 135h0m1062-35h0m73-83h0m1708 114h0m332-128h0m95 214h0m-59 31h0m-17 71h0m-53-75h0m-66 130h0m-1-26h0m-23-100h0m-13 14h0m-23 71h0m-10-63h0m-81 5h0m-167-15h0m-537 63h0m-209-102h0m-2 73h0m-93-114h0m-43 18h0m-983 92h0m-162 53h0m-677-124h0m-90 3h0m-68-24h0m-90 7h0m-16 13h0m-2-46h0m192 755h0m71 28h0m989-9h0m2786-60h0m203 185h0m0 39h0m-160 184h0m-71-119h0m-13 18h0m-539-23h0m-86 45h0m-164-119h0m-79-33h0m-687 58h0m-17 48h0m-51-76h0m-8-55h0m-64 233h0m-1-169h0m-27 169h0m-24-99h0m-6 162h0m-58-82h0m-83-186h0m-2 122h0m-568 142h0m-207-205h0m-13 208h0m-55-300h0m-315 263h0m-456-26h0m-155-34h0m-5-43h0m-19-27h0m-28 50h0m-25-187h0m-50 270h0m-6-322h0m-19 318h0m-59-145h0m-28 79h0m-5-94h0m-16-125h0m-77 218h0m-14 75h0m-11-60h0m82 145h0m38 7h0m19 48h0m7-29h0m23 6h0m100-14h0m1874-8h0m8 80h0m3-53h0m22 6h0m22-25h0m973 65h0m130-72h0m848 745h0m-1995 5h0m-1805-8h0m-405 219h0m134-65h0m119-66h0m155 50h0m45-40h0m140 136h0m600-193h0m17-12h0m89 37h0m55 349h0m48-320h0m680 65h0m48-2h0m4-26h0m58 44h0m82 15h0m133-10h0m12 50h0m58-162h0m57-37h0m31 115h0m22-44h0m0 80h0m560 82h0m90-16h0m67 139h0m124-327h0m18 78h0m95 51h0m46 27h0m9-18h0m510 176h0m32-272h0m1003 126h0m37-78h0m94 89h0m137-36h0m90 3h0m909 512h0m-92 0h0m-168 0h0m-1949-262h0m-899-2h0m-932 264h0m-934 0h0m-207 0h0m-1106 0h0m6433 424h0m-1138 426h0m-276 0h0m-829 0h0m-161 0h0m-1989 0h0m-775 0h0m-1293 0h0"/>
<path id="L10" d="M739 1590h0m-8-232h0m-58 141h0m-27-17h0m-126-81h0m-70 164h0m-6 77h0m33-1h0m9-39h0m99 202h0m42 103h0m19-209h0m5-88h0m3 143h0m20 53h0m1 34h0m253-81h0m-444 1023h0m111-96h0m19 36h0m66-142h0m62 193h0m29-285h0m129 196h0m681 95h0m49-214h0m35 191h0m2 28h0m24-287h0m12 153h0m134-146h0m162 467h0m-43-161h0m-119 141h0m-5-86h0m-179-9h0m-1 24h0m-58 69h0m-139 123h0m-566-30h0m-43-217h0m-152 320h0m-82-113h0m-98-129h0m-8 103h0m-80-56h0m-10 225h0m373 32h0m986 320h0m1015 48h0m33 146h0m-25 80h0m-12-52h0m-73 25h0m-90 222h0m-58-5h0m-634-56h0m-45 45h0m-60-13h0m-49-184h0m-7 15h0m-17 52h0m-36 98h0m-7-252h0m-15 56h0m-41-21h0m-8 167h0m-151 74h0m-617-7h0m-149 24h0m-105-160h0m-21 125h0m-2-130h0m-21 92h0m-36-26h0m-13-143h0m-100 195h0m152 103h0m57-9h0m41 133h0m137-124h0m40-17h0m45 61h0m52-52h0m638-27h0m111-4h0m793 36h0m106 241h0m138-232h0m95-3h0m139 10h0m40-29h0m27 17h0m-2506 910h0m75 98h0m1101-11h0m17 75h0m94-15h0m766 31h0m56 43h0m992-74h0m60 60h0m69 7h0m259 108h0m-60 64h0m-35-122h0m-99 132h0m-90-52h0m-19 94h0m-209-74h0m-497-10h0m-53-5h0m-22 27h0m-284-21h0m-37 5h0m-735-54h0m-173 90h0m-836-77h0m-9 39h0m-62 122h0m-75-110h0m-25-69h0m-40 137h0m-28-140h0m-39-34h0m-9 41h0m-89 45h0m177 625h0m1310-11h0m758 69h0m1040-3h0m22-305h0m1106 610h0m-284 86h0m-12-206h0m-40 23h0m-8 173h0m-81-312h0m-473 175h0m-19 22h0m-80-131h0m-59 151h0m-19-201h0m-85-13h0m-18 300h0m-95-115h0m-80 73h0m-645-81h0m-44 93h0m-176-4h0m-11-13h0m-20-62h0m-100-43h0m-645 183h0m-37-142h0m-5-155h0m-40 293h0m-28-262h0m-42 185h0m-10-103h0m-54 75h0m-23-120h0m-85 236h0m-820-120h0m-42-214h0m-64 100h0m-94 66h0m-4 125h0m-12-65h0m-77 99h0m-17 22h0m36-1h0m228-1h0m32 81h0m932-56h0m39 41h0m806 62h0m33-69h0m39 18h0m3085 608h0m-86 87h0m-2753-76h0m-1052 87h0m-1219-126h0m-66 335h0m123-2h0m100-50h0m22-42h0m40-30h0m62-75h0m788 240h0m150 1h0m693-96h0m51-60h0m24 39h0m26 255h0m170-200h0m79-120h0m151 4h0m592 301h0m174-140h0m246 27h0m11-150h0m451 81h0m30-66h0m50 0h0m9 99h0m29 47h0m41-201h0m122 101h0m908 74h0m82-155h0m17-8h0m2 124h0m52 4h0m6-94h0m74 17h0m72 45h0m932 531h0m-1103-264h0m-23 1h0m-150-34h0m-887 33h0m-4198-1h0m-115 2h0m139 687h0m299 0h0m1998 0h0m741 0h0m2044 0h0m161 0h0m364 0h0m400 426h0m-892 0h0m-1059 0h0m-92 0h0m-1989 0h0m-660 0h0m-1454 0h0"/>
<path id="L11" d="M849 1530h0m-182-145h0m-31 74h0m-35-27h0m-101-90h0m-26 75h0m-40 40h0m85 232h0m17 156h0m47-78h0m134-108h0m7 208h0m185-134h0m-219 737h0m20 92h0m32 232h0m0-236h0m50 195h0m19-172h0m74-179h0m28 308h0m649-25h0m49-275h0m127 31h0m3 341h0m36-276h0m51 73h0m21 182h0m124 210h0m-172 42h0m-12-76h0m-16-22h0m-60 152h0m-787-154h0m-61-100h0m-24 103h0m-199 159h0m-22-138h0m-91 127h0m-5 22h0m24 506h0m103-25h0m1084-14h0m21-16h0m1225 264h0m-147 5h0m-10 75h0m-28 72h0m-9-26h0m-34-22h0m-23-112h0m-39-14h0m-13-30h0m-12 17h0m-72 173h0m0-303h0m-10 252h0m-9-117h0m-31 139h0m-710-111h0m-13 110h0m-5 30h0m-20 7h0m-21-6h0m-53-285h0m-13-31h0m-6 41h0m-20-37h0m-44 138h0m-31 18h0m-16 22h0m-9-89h0m-717 176h0m-42 32h0m-50-78h0m-135-12h0m-73 42h0m-31 58h0m-39-232h0m-36 35h0m65 319h0m12 29h0m128 64h0m16-48h0m38 105h0m21-132h0m169-9h0m841 132h0m10-25h0m53-66h0m40-74h0m3 85h0m10 113h0m28-166h0m14 132h0m52-58h0m60-66h0m653 98h0m99-145h0m124 63h0m-909 607h0m-1544 410h0m280 91h0m1094-46h0m24-20h0m13-147h0m174 109h0m709 71h0m125-163h0m843 129h0m57-14h0m17-115h0m126 138h0m85 193h0m-83-89h0m-75 89h0m-17 109h0m-152-180h0m-9 24h0m-117 3h0m-556 52h0m-18-92h0m-140 108h0m-27-13h0m-17-129h0m-41 23h0m-195 36h0m-51 82h0m-477 31h0m-4-44h0m-140-31h0m-1 88h0m-197 15h0m-8-96h0m-68-54h0m-102 91h0m-605-65h0m-220 34h0m-24-90h0m-221 146h0m1339 523h0m2089 75h0m1070 367h0m-62 6h0m-74 2h0m-111-44h0m-37-253h0m-85 14h0m-28-60h0m-49 312h0m-579-231h0m-30 95h0m-109 161h0m-8-221h0m-197 235h0m-636-54h0m-179-178h0m-43 71h0m-25-100h0m-7 282h0m-12-292h0m-704 171h0m-49-10h0m-36 127h0m-54-219h0m-342 113h0m-551 59h0m-59-78h0m-132-135h0m-1 22h0m-88 252h0m-47-370h0m-19 94h0m-4-91h0m-13 27h0m-16 343h0m-22-202h0m-1 119h0m-107 80h0m1252 13h0m98 5h0m883 15h0m235-8h0m773 34h0m74 11h0m787-31h0m1257 679h0m-11 65h0m-2018-216h0m-86 224h0m-2001-31h0m-984-58h0m-130 207h0m196-97h0m190 13h0m500 296h0m410 84h0m810-277h0m0 70h0m14 19h0m15 165h0m6-48h0m41-303h0m44-5h0m12 129h0m29-110h0m71 16h0m93-24h0m776 208h0m22-218h0m74 184h0m32-151h0m15 141h0m65-154h0m37 105h0m592-49h0m34 49h0m46 14h0m929-46h0m31 207h0m55-96h0m7-145h0m4 196h0m58-228h0m12 176h0m36-91h0m-251 569h0m-1720 0h0m-77-264h0m-61 264h0m-77-262h0m-38-12h0m-549 274h0m-253 0h0m-276 424h0m4285 426h0m-1260 0h0m-1781 0h0m-230 0h0"/>
<path id="L12" d="M991 1456h0m-189 133h0m-70-255h0m-51 30h0m-68-20h0m-28 110h0m-38-107h0m-98-48h0m57 309h0m269 77h0m135 121h0m-491 257h0m178 478h0m57 147h0m38 22h0m30-164h0m58 146h0m83-291h0m52 230h0m709 33h0m76-103h0m2-155h0m84 334h0m15-296h0m18 189h0m179 180h0m-13 252h0m-175-207h0m-15 188h0m-14-39h0m-174-150h0m-60 189h0m-97-229h0m-6 86h0m-510-8h0m-28 5h0m-6-45h0m-229-45h0m-16 203h0m0-169h0m-45 248h0m-3-24h0m-6-244h0m-59 79h0m-110-39h0m127 690h0m41 45h0m2012-13h0m83-1h0m321 135h0m-92 48h0m-14 158h0m-7-89h0m-17-196h0m-30 200h0m-53 60h0m-11-77h0m-51-121h0m-75 255h0m-19-26h0m-70-126h0m-17 84h0m-821-190h0m-30 42h0m-80 102h0m-74 2h0m-824 21h0m-29-82h0m-3 127h0m-7 21h0m-54-325h0m-65 216h0m-104 291h0m114 11h0m141 49h0m26 62h0m72-226h0m20 149h0m31-79h0m760-64h0m146 95h0m78 154h0m74-130h0m19 75h0m570-103h0m67-97h0m8 87h0m21 78h0m168-174h0m85 48h0m-2302 895h0m85 147h0m1072 54h0m124-142h0m44 195h0m86-288h0m11 211h0m658-94h0m922 123h0m43-3h0m25 17h0m47-181h0m327 323h0m-90 10h0m-76-13h0m-148-23h0m-109 122h0m-535-26h0m-12-107h0m-198-42h0m-127 114h0m-740-103h0m0 144h0m-78-23h0m-963-50h0m-227-105h0m-11 234h0m-5-85h0m-65-2h0m-1-77h0m-169 62h0m130 663h0m3143-5h0m76-11h0m869-81h0m-17 159h0m-14 184h0m-44 48h0m-12-246h0m-44 217h0m-6 76h0m-586 30h0m-1-126h0m-72 46h0m-180 37h0m-22-161h0m-66 104h0m-29 23h0m-633-163h0m-224-23h0m-11 175h0m-70 61h0m-43-209h0m-59 90h0m-640 104h0m-94-277h0m-7 263h0m-37-84h0m-20 118h0m-31-195h0m-82 174h0m-48-29h0m-161-64h0m-614 95h0m-62-178h0m-49-20h0m-19 145h0m-23-122h0m-29 100h0m-9 102h0m-37-201h0m-1 167h0m-48-36h0m-71 147h0m70-3h0m70 36h0m239-44h0m912 18h0m171 63h0m633 19h0m39-61h0m1111 26h0m86-19h0m106-60h0m60 17h0m599-7h0m1281 759h0m-1269-109h0m-40 89h0m-31 40h0m-1788 1h0m-1786-24h0m-196-106h0m-100 99h0m-61 198h0m9 63h0m11-163h0m17 94h0m32-43h0m24 134h0m8-110h0m65-95h0m7 301h0m3-287h0m37-21h0m41 55h0m160-33h0m728-53h0m58 360h0m763-87h0m157-62h0m37-158h0m86-44h0m127 158h0m21-55h0m719-76h0m142-33h0m19 107h0m105-35h0m573 301h0m8-381h0m10 210h0m87 41h0m0-160h0m167 62h0m135 118h0m714 64h0m52-41h0m23 20h0m14-281h0m0 260h0m115-199h0m92 73h0m-2019 530h0m-1372-265h0m-749 3h0m-1047 686h0m883 0h0m23 0h0m46 0h0m931 0h0m4255 0h0m-200 426h0m-23 0h0m-846 0h0m-92 0h0m-1013 0h0m-929 0h0m-2042 0h0"/>
<path id="L13" d="M740 1393h0m-44 57h0m-90 62h0m-4-201h0m-31 226h0m-56 45h0m0-43h0m-74-189h0m183 464h0m37-182h0m85 82h0m71 43h0m18-152h0m0 64h0m943 699h0m-98 11h0m-1163 182h0m42 37h0m15 60h0m0 79h0m23-1h0m25-302h0m50 267h0m40-1h0m150-55h0m710 64h0m37-89h0m124 49h0m42-142h0m200 562h0m-78-101h0m-10-117h0m-21 7h0m-75-66h0m-33 154h0m-36-53h0m-17 11h0m-3 32h0m-25-65h0m-16-91h0m-89 218h0m-809 37h0m-84-206h0m-85 60h0m-1 73h0m-33 8h0m65 560h0m991-76h0m189 70h0m1203 353h0m-7 79h0m-55-360h0m-113 84h0m-9 91h0m-9-47h0m-15 139h0m-3-276h0m-133 265h0m0-43h0m-28 5h0m-25-17h0m-607 137h0m-50-16h0m-89-92h0m-10 72h0m-59 3h0m-33-300h0m-122 335h0m-91-243h0m-703 212h0m-113 38h0m-20-1h0m-68-212h0m-32 37h0m-31 75h0m-4-148h0m-48 203h0m30 155h0m173 19h0m24 62h0m55-75h0m966-47h0m23 144h0m142 24h0m35-115h0m67-7h0m622 126h0m74-52h0m23-72h0m900 619h0m-3132-15h0m70 196h0m1133 135h0m32 31h0m98 39h0m42-21h0m63 102h0m614 33h0m41-142h0m1054 5h0m42 59h0m7-242h0m176 500h0m-62-8h0m-110 51h0m-864-92h0m-173-6h0m-70-54h0m-22 71h0m-43-54h0m-25 122h0m-61-137h0m-13 109h0m-501 37h0m-105-55h0m-4-53h0m-116 96h0m-47-103h0m-771-31h0m-2 122h0m-160-192h0m-208 126h0m-62 45h0m1231 380h0m2843 189h0m322 322h0m-70-75h0m-68 81h0m-73 78h0m-10-251h0m-37-57h0m-28 276h0m-589-123h0m-23 144h0m-17-43h0m-48 3h0m-204-252h0m-58 234h0m-183-6h0m-506-254h0m-64 33h0m-41 58h0m-6 23h0m-5 208h0m-2 57h0m-7-100h0m-73-73h0m-17-141h0m-22 220h0m-9-156h0m-920 147h0m-24-136h0m-66-49h0m-48 112h0m-8-26h0m-74 182h0m-717-78h0m-36-154h0m-96-128h0m-111 105h0m-13-23h0m-4 45h0m-17 101h0m1082 192h0m920-18h0m1016 19h0m70 12h0m159-46h0m13 26h0m624 102h0m17-58h0m100 643h0m-819 14h0m-41-62h0m-45 23h0m-3236 295h0m94 115h0m3-88h0m46-64h0m13 39h0m14-21h0m128 27h0m50-142h0m3 144h0m69 147h0m861-281h0m103 53h0m754-12h0m50 210h0m42-77h0m31-187h0m32 126h0m76 165h0m69-230h0m2 16h0m6 40h0m137-42h0m700-83h0m43 30h0m17 297h0m65-139h0m165-24h0m471-159h0m44 114h0m9-137h0m30-23h0m83 182h0m50-95h0m20 148h0m854-152h0m65 309h0m14-314h0m56 139h0m26-104h0m77-30h0m21 121h0m1136 495h0m-3164-264h0m-15 264h0m-138 0h0m-981-263h0m-864-2h0m-1369 689h0m207 0h0m46 0h0m745 0h0m1092 0h0m253 0h0m787 0h0m483 0h0m508 0h0m2002 0h0m160 426h0m-23 0h0m-961 0h0m-898 0h0m-299 0h0m-1667 0h0m-92 0h0"/>
<path id="L14" d="M1014 1496h0m-298-9h0m-88-66h0m-3 62h0m-3-162h0m-68 233h0m-79 341h0m117-110h0m114-5h0m20-51h0m104 52h0m13-54h0m17 108h0m44-54h0m20-162h0m-56 740h0m-293 439h0m52-59h0m132 7h0m42-277h0m44 130h0m65-96h0m716 186h0m13-154h0m138-92h0m26 55h0m207 453h0m-36-1h0m-45 45h0m-81 8h0m-89-134h0m-10-30h0m-44 145h0m-17 58h0m-102-180h0m-679 100h0m-210 91h0m-54-84h0m-56-19h0m0 133h0m-8-255h0m-14 142h0m-43 72h0m2531 848h0m-118 89h0m-34 2h0m0-113h0m-91 62h0m-44-6h0m-85-113h0m-7-25h0m-60 143h0m-68-56h0m-12-186h0m-572 230h0m-185-189h0m-34 134h0m-10 98h0m-7-239h0m-7 72h0m-35 35h0m-79 12h0m-29 10h0m-630 147h0m-187-165h0m-51 154h0m-122-204h0m-92 18h0m-21 133h0m-2 55h0m-20-166h0m-24 192h0m169 48h0m59 116h0m113-117h0m83-52h0m32 149h0m744-56h0m28-19h0m81 133h0m35-209h0m134 99h0m608-20h0m43-35h0m8 30h0m13 150h0m16-166h0m44-48h0m28 231h0m66-126h0m23-17h0m34-23h0m66-10h0m-2191 984h0m1140 63h0m62 39h0m17-103h0m677 95h0m70-42h0m134-152h0m99 180h0m733 25h0m312 57h0m-62 13h0m-197 111h0m-41-2h0m-20 9h0m-36-81h0m-548-6h0m-205 6h0m-95-33h0m-8 110h0m-48-20h0m-1-55h0m-34 175h0m-7-187h0m-19 36h0m-1 87h0m-46-85h0m-522 5h0m-224-91h0m-9 100h0m-150-70h0m-179 109h0m-556-93h0m-43-29h0m-143 180h0m-37-65h0m-42-139h0m-64 170h0m-10-20h0m-55 68h0m-8-24h0m3271 602h0m1035 265h0m-28 30h0m-49-63h0m-31 7h0m-2-53h0m-126-138h0m-9 198h0m-585 122h0m-4-136h0m-90 84h0m-16-103h0m-70-107h0m-24-83h0m-22 280h0m-26 69h0m-142-263h0m-689 185h0m-22 68h0m-45-329h0m-23 229h0m-6-159h0m-52 83h0m-29 17h0m-60 31h0m-5 133h0m-676-75h0m-180-124h0m-26-46h0m-7-110h0m-11 100h0m-5-27h0m-52 118h0m-85 54h0m-836 103h0m-23-50h0m-87-72h0m-62-195h0m-63 81h0m-15 100h0m-19 71h0m-37-100h0m46 269h0m34 6h0m164 317h0m913-386h0m2120 68h0m751-19h0m102 472h0m-9 171h0m-854 80h0m-768-80h0m-1193-166h0m-48 232h0m-832 19h0m-321 15h0m-76 160h0m75-47h0m195 39h0m13-87h0m107 81h0m777-138h0m96 349h0m34-1h0m5-133h0m82 0h0m742 27h0m17-22h0m204-40h0m27-29h0m746 2h0m60 233h0m7-203h0m16 32h0m25 119h0m25-76h0m62-165h0m37 169h0m95-24h0m28-104h0m17-75h0m542 132h0m87-119h0m18 68h0m10-116h0m14 199h0m935-23h0m102-23h0m55-168h0m115 332h0m-206 97h0m-115 0h0m-1813 262h0m-1096-271h0m-1866 8h0m-161-1h0m-46 1h0m-92 0h0m346 687h0m138 0h0m515 0h0m1552 0h0m902 0h0m1653 0h0m138 0h0m-568 426h0"/>
<path id="L15" d="M788 1377h0m-36-32h0m-110 163h0m-46-218h0m-25 143h0m-45-52h0m-84 224h0m77 25h0m13 188h0m146-177h0m112 157h0m23-135h0m52 199h0m821 499h0m-1085 286h0m15 25h0m38-117h0m18-13h0m11 146h0m15 62h0m9-18h0m115-168h0m76-140h0m682 18h0m51 313h0m17-251h0m12 19h0m24 113h0m355 335h0m-308 140h0m-55-125h0m-3-114h0m-49 273h0m-735-204h0m-16-63h0m-23 104h0m-28-74h0m-11 65h0m-32-145h0m-102 145h0m-14 88h0m-19-67h0m-19-72h0m30 670h0m1094-10h0m1136 86h0m-37 306h0m-3-295h0m-42 44h0m-62 96h0m-6 30h0m-23 103h0m-14-111h0m0-141h0m-5-42h0m-23-4h0m-19 295h0m-29-203h0m-813 249h0m-6-124h0m-35-130h0m-40 69h0m-38 76h0m-109-227h0m-652 262h0m-34 28h0m-22-153h0m-7 33h0m-32 165h0m-180 1h0m-7-368h0m-45 247h0m-22-187h0m-5 120h0m-8 189h0m-103-278h0m32 399h0m82-33h0m91-33h0m30 51h0m3 71h0m14-166h0m17 49h0m16 125h0m23 0h0m4-72h0m31 80h0m887-171h0m85 179h0m2-109h0m11-78h0m55 62h0m50-35h0m81 124h0m21-155h0m605 18h0m390 52h0m-1183 955h0m93 152h0m733-110h0m29 87h0m39-113h0m855 151h0m2-66h0m24-5h0m87 61h0m309 115h0m-33 81h0m-45-42h0m-77 40h0m-53 26h0m-890 16h0m-10-175h0m-15 134h0m-68-60h0m-120 16h0m-10-51h0m-105-58h0m-648 95h0m-61-88h0m-40 131h0m-56-25h0m-27-94h0m-2 174h0m-54-172h0m-801 124h0m-157-20h0m-35 13h0m3230 530h0m632 52h0m281 394h0m-46 5h0m-62-92h0m-25-169h0m-682 216h0m-55-38h0m-48 69h0m-101-263h0m-34 224h0m-31-150h0m-36 154h0m-18-157h0m-156 227h0m-595-229h0m-24 204h0m-56-91h0m-196-128h0m-17 63h0m-636-83h0m-6 239h0m-74-31h0m-80-36h0m-48-138h0m-61-124h0m-904 311h0m-42 70h0m-35-22h0m-19-124h0m-16 5h0m-5 125h0m-18-63h0m-97 37h0m-47-81h0m-14-250h0m1350 431h0m70 22h0m18-55h0m741 36h0m1010 41h0m1876 287h0m-2728 365h0m-22 47h0m-1066-12h0m-52-265h0m-1052 264h0m-132 89h0m18-17h0m25 225h0m7-152h0m13-110h0m59-12h0m3 220h0m56-202h0m74 95h0m24 78h0m95-97h0m628-11h0m87 75h0m44-70h0m14 172h0m42-239h0m80 187h0m111-2h0m671 22h0m25 104h0m11-199h0m36 258h0m38-51h0m18-144h0m18-119h0m152-11h0m1 73h0m661 145h0m3 99h0m54-21h0m44-224h0m130-127h0m10 186h0m20-67h0m9 19h0m820 137h0m8-242h0m41 42h0m121 171h0m736-188h0m25 214h0m128-97h0m89 32h0m51 24h0m11-26h0m-1031 211h0m-2949 265h0m-109-263h0m-75 263h0m-973-264h0m-46 0h0m-18 264h0m-138 0h0m-46 0h0m203 424h0m1113 0h0m862 0h0m230 0h0m115 0h0m3703 0h0m161 0h0m-223 426h0m-1053 0h0m-2841 0h0"/>
<path id="L16" d="M886 1555h0m-125-17h0m-136-23h0m-149 147h0m22-15h0m96-35h0m50 25h0m10 149h0m108-58h0m5 189h0m10-289h0m1021 755h0m-1234 140h0m84 185h0m18 66h0m56 15h0m122-339h0m10 346h0m23-322h0m725 310h0m54-135h0m26 41h0m46-165h0m1-37h0m31 156h0m26-236h0m32 120h0m0 268h0m23-329h0m17 328h0m13-122h0m-14 426h0m-6-174h0m-56 32h0m-122-111h0m-42 79h0m-689-84h0m-73 113h0m-26 77h0m-47-162h0m-8 24h0m-108-3h0m-56-85h0m-128 130h0m-44 663h0m155-103h0m35 19h0m2233-50h0m91 203h0m-15 80h0m-190-38h0m-69 25h0m-80-88h0m-613 245h0m-99 23h0m-131-85h0m-4 140h0m-92-213h0m-9 80h0m-37-217h0m-51 79h0m-677 179h0m-66 89h0m-31-61h0m-59 23h0m-67-293h0m-194 216h0m-42 47h0m35 143h0m67 175h0m111-6h0m49-175h0m30-13h0m56 49h0m91 94h0m918-71h0m22-75h0m65 231h0m155-71h0m553-4h0m28 77h0m85-216h0m0 58h0m14-34h0m25 19h0m895 506h0m-2912 113h0m-165-127h0m-110 456h0m1528 118h0m59-62h0m517-9h0m28 99h0m55 26h0m12-101h0m100 87h0m127-20h0m758 25h0m112-327h0m99 301h0m-48 125h0m-12 19h0m-63-86h0m-12 199h0m-21-101h0m-172 23h0m-465 43h0m-117-184h0m-21 44h0m-195-11h0m-89 106h0m-17-45h0m-91 90h0m-5-116h0m-555-54h0m-66 29h0m-8-30h0m-22 113h0m-12-113h0m-39 131h0m-30-89h0m-19 80h0m-153-29h0m-601 58h0m-298-133h0m-120 140h0m-21-55h0m-48-43h0m-66 19h0m-66 36h0m265 568h0m2336 0h0m671 20h0m106 49h0m873-36h0m166-250h0m10 689h0m-65-209h0m-25 95h0m-54-96h0m-80-20h0m-5 27h0m-27 107h0m-37 4h0m-29 79h0m-15-149h0m-454 3h0m-114 189h0m-20-139h0m-41-103h0m-43 31h0m-10-158h0m-10 176h0m-3 103h0m-1-32h0m-80-199h0m-690 200h0m-118 115h0m-28-88h0m-89-133h0m-91 86h0m-97 95h0m-99-31h0m-603-167h0m-100 95h0m-179 63h0m-747-35h0m-102 41h0m-48-100h0m-14-106h0m-17 184h0m-20 42h0m-23-96h0m-17-96h0m-11 237h0m-66-44h0m-8-97h0m-62 66h0m-36 109h0m60 24h0m159 4h0m959-17h0m2232 46h0m637-64h0m1271 657h0m-2052-148h0m-839 38h0m-190 229h0m-1840 10h0m-302-7h0m-54 230h0m33-47h0m87-95h0m14 17h0m8 117h0m2 24h0m82-105h0m99 33h0m25-133h0m82 47h0m13-40h0m716 68h0m866 71h0m53 108h0m57-218h0m15 27h0m191 207h0m2-201h0m65-93h0m29 121h0m24-83h0m71 14h0m512 317h0m80-295h0m287 25h0m10 32h0m158-12h0m454 205h0m43-264h0m15 167h0m9-22h0m78-15h0m55-54h0m906-2h0m40 136h0m36-126h0m204 60h0m-1125 226h0m-276-1h0m-2696 263h0m-63-263h0m-6 263h0m-1106 0h0m3126 424h0m2205 0h0m849 0h0m-3910 426h0m-1074 0h0m-1385 0h0"/>
<path id="L17" d="M881 1526h0m-160-139h0m-13 75h0m-44-119h0m-5 217h0m-14-137h0m-58-15h0m-25 164h0m-58-205h0m-10 132h0m-43 15h0m-29 114h0m69-3h0m94 217h0m3-116h0m5 236h0m83-77h0m33-51h0m40-231h0m4 24h0m24 193h0m63-125h0m904 679h0m-1281-317h0m79 592h0m54 139h0m40-65h0m48-51h0m14-21h0m13-51h0m14 69h0m36 54h0m836-235h0m83 309h0m18 0h0m11-179h0m25 119h0m22 56h0m8-119h0m5-204h0m64 205h0m130 194h0m-31 61h0m-44 178h0m-52-285h0m-96 206h0m-17-219h0m-19 32h0m-282 219h0m-525-185h0m-68 177h0m-11-105h0m-37 66h0m-38 6h0m-116-120h0m-43 126h0m-31-142h0m-9 93h0m-11-131h0m-34 192h0m2370 534h0m150 292h0m-3-72h0m-11-16h0m-10 106h0m-9-118h0m-47-38h0m-28 183h0m-13-138h0m-18 11h0m-33 167h0m-26-107h0m-26-187h0m-65 117h0m-2-141h0m-5 200h0m-17 77h0m-54 89h0m-55-307h0m-19-14h0m-733 312h0m-30-99h0m-27-33h0m-156-170h0m-28 248h0m-699 54h0m-7-152h0m-42-54h0m-28 38h0m-27-19h0m-2 138h0m-17 0h0m-32-131h0m-20 23h0m-40 136h0m-24-12h0m-76 26h0m-122-20h0m-18 30h0m105 28h0m59 39h0m310 96h0m759-77h0m215 139h0m671-11h0m76-131h0m12 31h0m275-8h0m-2337 1055h0m161-72h0m1269 77h0m550-78h0m247 105h0m1064 96h0m-293-32h0m-120 23h0m-541-5h0m-159 134h0m-79-127h0m-891 10h0m-28 99h0m-24-18h0m-186 28h0m-773-104h0m-50-60h0m-32 106h0m-53 418h0m2214-71h0m92 290h0m767-22h0m66-25h0m34-153h0m17 164h0m843 329h0m-35 116h0m-16-171h0m-54 18h0m-7-78h0m-45 94h0m-3 134h0m-472-170h0m-29 58h0m-15 75h0m-93 40h0m-23-76h0m-48-257h0m-85 37h0m-9 243h0m-18-287h0m-260 241h0m-418 66h0m-56-185h0m-25 132h0m-6-100h0m-129-90h0m-108 65h0m-20-128h0m-14 353h0m-55-227h0m-14-69h0m-809 192h0m0-35h0m-2 17h0m-14 89h0m-54-69h0m-131 1h0m-688 15h0m-202-267h0m-5 322h0m-147-162h0m-134-17h0m310 217h0m1753 52h0m283-38h0m806 49h0m1021-21h0m2-28h0m1108 742h0m-1143-12h0m-29-8h0m-3823 5h0m-252 186h0m109-88h0m17 208h0m23-187h0m22 5h0m42 11h0m24 118h0m144-54h0m726-21h0m141 89h0m47 97h0m4 21h0m184-121h0m502-23h0m206 164h0m86-123h0m1-122h0m142 6h0m57 88h0m644-95h0m17 71h0m26 152h0m16-141h0m6-64h0m10 169h0m9-28h0m226 48h0m612-54h0m44-132h0m52 167h0m12-93h0m62 66h0m28-60h0m895-168h0m9 67h0m50 151h0m99-95h0m22 0h0m199 35h0m14-63h0m-263 308h0m-1959-2h0m-817 265h0m-23 0h0m-230 0h0m-113-277h0m-1835 277h0m-189-264h0m-160 688h0m2274 0h0m925 0h0m1975 0h0m1148 0h0m427 0h0m-2417 426h0m-115 0h0m-1943 0h0m-1999 0h0"/>
<path id="L18" d="M792 1569h0m-78-44h0m-51-269h0m-62 193h0m-106-139h0m-1 91h0m68 206h0m1 104h0m64-2h0m31 186h0m2 33h0m25-162h0m19-41h0m87-115h0m65 74h0m28 154h0m9-195h0m-308 1119h0m159-232h0m38 25h0m47-31h0m5 116h0m15 82h0m15-291h0m49 234h0m649 36h0m16 33h0m57-103h0m10-30h0m51 147h0m8-229h0m34 48h0m49 34h0m6-30h0m64 154h0m167 278h0m-51-75h0m-57 183h0m-5-44h0m-21-1h0m-8-20h0m-167-3h0m-94 18h0m-21-238h0m-603 109h0m-58-122h0m-27 15h0m-10 185h0m-33 20h0m-44-11h0m-31-71h0m-62-104h0m-9 21h0m-3 130h0m-141 66h0m-97-44h0m94 449h0m36 113h0m2335 330h0m-15 45h0m-46-77h0m-43-48h0m-102-90h0m-16-51h0m-19 201h0m-13-130h0m-82 93h0m-11 21h0m-87-28h0m-755-124h0m-38 256h0m-151-211h0m-63-17h0m-691 129h0m-84-150h0m-39 164h0m-10-67h0m-6 31h0m-71-143h0m-17-73h0m-8-20h0m-163 144h0m134 338h0m10-53h0m14-39h0m115 184h0m16 38h0m942-89h0m322-92h0m539 32h0m40 15h0m10 20h0m138-60h0m121 48h0m-2338 833h0m1316 144h0m187 17h0m559 79h0m64-19h0m121-103h0m957 116h0m123-172h0m68 196h0m53 70h0m-160 82h0m-24-96h0m-68 28h0m-92 98h0m-602-86h0m-155 3h0m-124 104h0m-100-32h0m-578 47h0m-174-71h0m-94-53h0m-50-53h0m-74 89h0m-805 59h0m-137-3h0m-9-99h0m-3 16h0m-17-93h0m-37 118h0m-44 25h0m-33-142h0m-93 45h0m2353 673h0m57 60h0m853-60h0m908 61h0m129-218h0m46 435h0m-85 1h0m-60-40h0m-779 225h0m-44-186h0m-84 170h0m-16-63h0m-6-106h0m-68-12h0m-60 24h0m-45 75h0m-561-84h0m-99 69h0m-19-222h0m-4 340h0m-68-331h0m-15-25h0m-25 15h0m-10 191h0m-8 45h0m-40 15h0m-80-92h0m-586-102h0m-104 177h0m-38 87h0m-58-303h0m-33 157h0m-16 120h0m-36 29h0m-34-144h0m-73-1h0m-786 153h0m-50-293h0m-53-3h0m-132 248h0m-9-13h0m-113-79h0m110 158h0m97 72h0m123-3h0m1128-69h0m766 31h0m25 2h0m1793 39h0m27-44h0m-44 527h0m-806 232h0m-827-77h0m-64 71h0m-1045-43h0m-1034-86h0m-224 438h0m55-107h0m6 49h0m172-167h0m12 54h0m16-18h0m794-9h0m86-76h0m30 181h0m2-55h0m8-49h0m60 82h0m5-99h0m47 96h0m6 70h0m749 10h0m21-235h0m22 88h0m47 151h0m89-92h0m111-150h0m49 200h0m100-75h0m552 180h0m80-227h0m93-6h0m9 32h0m44-46h0m9-16h0m59 225h0m30-120h0m707 142h0m39-128h0m71 46h0m888 5h0m109-208h0m10 94h0m120 1h0m43 101h0m9-22h0m3-169h0m915 673h0m-1287-265h0m-463 2h0m-390-1h0m-125-12h0m-582 276h0m-3076 424h0m1722 0h0m69 0h0m1017 0h0m207 0h0m2044 0h0m-2415 426h0m-1766 0h0m-1086 0h0m-46 0h0"/>
<path id="L19" d="M817 1377h0m-36 215h0m-47-37h0m-4-22h0m-28-192h0m-20-13h0m-4 115h0m-62 24h0m-1 90h0m-49-104h0m-21 131h0m5 64h0m10 191h0m142-166h0m5 30h0m32 114h0m17-173h0m17-1h0m100 61h0m17 44h0m-301 842h0m21 170h0m111-339h0m5 95h0m16 91h0m41-10h0m11 73h0m8-163h0m12 97h0m7-103h0m103 108h0m717-190h0m6 349h0m64-227h0m4-117h0m3 157h0m60 67h0m241 282h0m-50 122h0m-85-109h0m-54-21h0m-63 104h0m-134-76h0m-4-80h0m-82 105h0m-747 164h0m-46-282h0m-163-52h0m-15 201h0m-46 111h0m-42-59h0m-63-75h0m84 584h0m2220-15h0m154 394h0m-14-233h0m-88-12h0m-18 164h0m-15 70h0m-19 40h0m-24-42h0m-45-44h0m-1-85h0m-25-153h0m-42 100h0m-4-29h0m-672 187h0m-197-49h0m-49-255h0m-798 257h0m-93-35h0m-7 155h0m-17-204h0m-80 204h0m-30-80h0m-14-94h0m-19-182h0m-19 170h0m-43 69h0m-31-218h0m-8 77h0m72 445h0m69-107h0m100 54h0m53-101h0m29 251h0m726 17h0m65-216h0m105-66h0m119 141h0m55-136h0m717 90h0m9-16h0m16 143h0m90-200h0m99-8h0m-833 570h0m-1386 582h0m93-41h0m107 56h0m1105-23h0m104-57h0m817 91h0m893-43h0m266 134h0m-253-7h0m-44 24h0m-31-61h0m-29 121h0m-125-145h0m-10 83h0m-511 25h0m-122 72h0m-80-96h0m-201 8h0m-11 18h0m-39 60h0m-32-69h0m-615-6h0m-10 117h0m-16-146h0m-218-9h0m-238 104h0m-547-133h0m-151 69h0m-49-82h0m-2 24h0m-98 158h0m-81-178h0m-6 207h0m-2-31h0m189 554h0m1123-34h0m1948-11h0m814 47h0m84 321h0m-81 96h0m-1-92h0m-618-102h0m-38 44h0m-15-47h0m-82 163h0m-27-105h0m-63 72h0m-59 59h0m-33-196h0m-40 17h0m-605 66h0m-59-98h0m-95 196h0m-22-29h0m0-323h0m-19 266h0m-20-145h0m-7 64h0m-6-85h0m-14 114h0m-3 21h0m-50-51h0m-77 116h0m-109 44h0m-523 24h0m-19-149h0m-155-42h0m-64 146h0m-18-119h0m-61-81h0m-762 149h0m-5 110h0m-87-152h0m-172-212h0m-106 311h0m-27-132h0m372 201h0m1833 31h0m105 348h0m47-361h0m985 26h0m784 694h0m-4001 186h0m73 148h0m30-214h0m902 193h0m113-147h0m4 24h0m18-44h0m71 228h0m764-198h0m18 238h0m85-213h0m23 4h0m20-84h0m6 67h0m77 3h0m27-49h0m12-12h0m78 29h0m67 8h0m490 100h0m38 62h0m23-127h0m23 133h0m20-42h0m29-212h0m59 330h0m7-314h0m2 191h0m110-195h0m44 68h0m23 39h0m7-67h0m27 44h0m105 4h0m438 135h0m107 47h0m8-276h0m12 159h0m1017-164h0m20 221h0m29-207h0m27-5h0m17 204h0m31-75h0m127-38h0m59-18h0m111 63h0m80-10h0m-282 538h0m-206-262h0m-1744 262h0m-2196 0h0m-922 0h0m-5-264h0m4036 688h0m1001 0h0m833 426h0m-915 0h0m-2979 0h0m-115 0h0"/>
<path id="L20" d="M823 1543h0m-58-216h0m-10 256h0m-71-15h0m-41-129h0m-2 112h0m-15-14h0m-44-13h0m-3 38h0m-105-64h0m-3-34h0m-60-20h0m89 353h0m106 139h0m24-334h0m18 270h0m16-219h0m1 67h0m5-22h0m42-11h0m91 240h0m2-82h0m13-165h0m-265 1092h0m54-197h0m77 154h0m140-52h0m43-128h0m1118 450h0m-115-162h0m-95 4h0m-12 246h0m-39-251h0m-89 7h0m-938 127h0m-59-33h0m-8 78h0m-32-145h0m-96 16h0m18 705h0m2197-17h0m295 31h0m-7 235h0m-86 11h0m-39 144h0m-47-6h0m-2-64h0m-73-77h0m-9-164h0m-53 302h0m-49-316h0m-16-68h0m-35 197h0m-45 164h0m-663-4h0m-7-139h0m-30 0h0m-57-143h0m-27 217h0m-105 51h0m-131-117h0m-720 164h0m-9-243h0m-75-52h0m-4 239h0m-10-138h0m-15-32h0m-7 102h0m-4-136h0m-45-9h0m-48 116h0m0-108h0m-16 0h0m-26 22h0m-10 67h0m-6 20h0m-50 75h0m-33 147h0m156 24h0m25 35h0m250-72h0m99-27h0m652 184h0m32-150h0m15-22h0m160 59h0m40-39h0m108 132h0m20-87h0m598-18h0m20 78h0m69 55h0m16-201h0m285-11h0m-2359 1174h0m28 4h0m1095-42h0m227-182h0m640 179h0m10-190h0m63 211h0m849-68h0m37-143h0m364 336h0m-81 54h0m-24-70h0m-156 147h0m-93-203h0m-95 55h0m-659 37h0m-39 76h0m-146 31h0m-50-189h0m-86 116h0m-732-101h0m-16 56h0m-16-17h0m-7-15h0m-92-31h0m-9 141h0m-10-74h0m-746 104h0m-133-47h0m-35 28h0m-30-103h0m-50 83h0m-37-61h0m-21 94h0m-113-3h0m-14-155h0m-45 77h0m251 460h0m3882 220h0m302 30h0m-124 359h0m-127-107h0m-22-142h0m-48 168h0m-811 51h0m-14-329h0m-665 210h0m-93-124h0m-23-56h0m-5 205h0m-5-187h0m-22 244h0m-34-126h0m-37 55h0m-87-40h0m-14-140h0m-33 177h0m-5-170h0m-795 124h0m-147 118h0m-33 24h0m-18-106h0m-88 59h0m-731 75h0m-26-21h0m-23-62h0m-18-7h0m-44 26h0m-13 58h0m-69-173h0m-70-20h0m-42 19h0m-9 225h0m1472 18h0m561 14h0m4 73h0m83-43h0m1183-57h0m621 80h0m56-91h0m1236 761h0m-1201-3h0m-775-5h0m-890-88h0m-36 57h0m-1112-26h0m-1248 381h0m76 85h0m112-243h0m42 97h0m50-40h0m200 28h0m635-20h0m71-157h0m5 290h0m27 79h0m33-97h0m221 29h0m552-170h0m112 96h0m8 72h0m56-79h0m160-22h0m36-32h0m33 18h0m660 122h0m23-41h0m14-21h0m67-209h0m17 114h0m44 12h0m10-79h0m130-71h0m62 163h0m22-124h0m532 203h0m7-164h0m19 157h0m104-150h0m0-51h0m1 178h0m41-108h0m844 38h0m83 215h0m52-23h0m113-95h0m-1191 421h0m-46 0h0m-20-263h0m-592 263h0m-322 0h0m-75-296h0m-1586 33h0m-144-20h0m-1157 19h0m-64 264h0m-23 0h0m2247 424h0m1155 0h0m669 0h0m1214 0h0m-980 426h0m-2242 0h0m-660 0h0m-1247 0h0"/>
<path id="L21" d="M834 1378h0m-72 185h0m-329-69h0m170 320h0m101-172h0m1-27h0m70 249h0m1-112h0m16 143h0m39-248h0m46 258h0m64-120h0m713 597h0m-829-1h0m-159 4h0m-113 367h0m1-76h0m3-55h0m41-101h0m50 3h0m44 35h0m11 114h0m42 17h0m135-28h0m1-210h0m67 146h0m655 72h0m72-160h0m97 243h0m21-67h0m12 25h0m10-149h0m70 153h0m20 296h0m-97-24h0m-78-58h0m-60-10h0m-21-100h0m-28 158h0m-698-40h0m-89 147h0m-60-217h0m-2 313h0m-71-279h0m-30 134h0m-198-207h0m65 740h0m1232 23h0m1146 224h0m-20 120h0m-9-41h0m-21-289h0m-6 34h0m-84-35h0m-5 184h0m-50-79h0m-86 11h0m-101 269h0m-684-34h0m-57-250h0m-41 174h0m-4-233h0m-14-26h0m-76 292h0m-22-267h0m-7 151h0m-19-79h0m-106 67h0m-716 138h0m-71-249h0m-60 266h0m-79-96h0m-15-132h0m-37 61h0m-5 24h0m-11-38h0m-20-13h0m-46 174h0m59 131h0m128 6h0m81 13h0m149 100h0m600-59h0m124-56h0m120 6h0m183 229h0m49-114h0m548 115h0m79-104h0m60 95h0m1-69h0m-1938 937h0m104 51h0m6-26h0m922-133h0m974-56h0m3 106h0m9 47h0m55 13h0m25-9h0m65-140h0m674 132h0m182-182h0m131 236h0m51 63h0m-32 154h0m-98-164h0m-38 21h0m-155 83h0m-524-45h0m-64-31h0m-93 78h0m-71-35h0m-101-4h0m-717 59h0m-64-149h0m-111 230h0m-110-153h0m-40-5h0m-8 103h0m-122-31h0m-782-30h0m-130-30h0m-58-40h0m151 729h0m2270-55h0m1785-183h0m45 427h0m-113-152h0m-71 80h0m-5 248h0m-23 0h0m-87-5h0m-479-222h0m-229 39h0m-124-160h0m0 367h0m-1-90h0m-6-211h0m-11 52h0m-34 238h0m-104-64h0m-28 1h0m-533 72h0m-107-221h0m-12-131h0m-35 72h0m-89 178h0m-83-8h0m-18 20h0m-1-278h0m-5 256h0m-15-82h0m-2 99h0m-83 18h0m-590-52h0m-32 37h0m-57 22h0m-29 89h0m-1-367h0m-99 277h0m-17 11h0m-8-174h0m-60 126h0m-746-16h0m-291 132h0m-66-127h0m-65 89h0m118 78h0m14-17h0m31 19h0m27-8h0m994 29h0m225 56h0m34-37h0m811-46h0m971 63h0m2103 615h0m-2067 37h0m-29 45h0m-38-34h0m-3183 306h0m139-26h0m31 0h0m24-138h0m77 224h0m21-40h0m66-215h0m619 198h0m294-157h0m26-44h0m57 260h0m31-110h0m16-11h0m719 113h0m65-164h0m11-26h0m142-22h0m61 89h0m181-74h0m496 101h0m110 190h0m11-25h0m23-280h0m103 95h0m47-113h0m62 149h0m150-184h0m479 339h0m52-358h0m0 273h0m12-52h0m39 32h0m116-75h0m1090-122h0m18 122h0m922 503h0m-1080-265h0m-115 1h0m-1 264h0m-22-263h0m-1063 263h0m-520 0h0m-138 0h0m-917 0h0m-340-263h0m-804-2h0m-919 265h0m-161 0h0m-23 0h0m-69 0h0m226 424h0m2808 0h0m230 0h0m928 0h0m1290 0h0m-2244 426h0m-1198 0h0m-1815 0h0"/>
<path id="L22" d="M757 1475h0m-17 20h0m-33-79h0m-29 47h0m-16-40h0m-9-24h0m-107 89h0m-5-189h0m-27 128h0m-26 114h0m-54-132h0m74 491h0m44-40h0m10-112h0m125-36h0m-184 1083h0m102-344h0m24 89h0m63-20h0m5-118h0m12 230h0m5-160h0m49 107h0m35 117h0m800-143h0m75 58h0m55 143h0m84 9h0m74 23h0m42 258h0m-3-72h0m-58 8h0m-19-112h0m-103 83h0m-22 67h0m-125-1h0m-849-87h0m-9 54h0m-94-180h0m-21 26h0m-43 50h0m-39 146h0m-25-88h0m-21 36h0m-17-10h0m-45 187h0m2305 383h0m4 46h0m189 69h0m-167 122h0m-2-29h0m-22 18h0m-54 111h0m-70 79h0m-646 42h0m-446-49h0m-687-148h0m-42 69h0m-12 94h0m-13-160h0m-144-32h0m-76 212h0m-90-173h0m194 322h0m79 96h0m16-216h0m28 194h0m59-130h0m88-50h0m661 36h0m105 63h0m33-59h0m19 256h0m116-265h0m57 18h0m16 27h0m52 9h0m484 214h0m76-129h0m83-130h0m2-21h0m32-9h0m14 29h0m62 133h0m142-174h0m44 102h0m44-103h0m-2228 1165h0m29-38h0m1066-64h0m69 4h0m1872 99h0m292 133h0m-25-52h0m-19 82h0m-66-104h0m-2-24h0m-161 124h0m-272 30h0m-627-124h0m-31-48h0m-32 188h0m-55-107h0m-56-2h0m-104 115h0m-675-58h0m-162 73h0m-161-123h0m-51 39h0m-622-37h0m-147 14h0m-74-89h0m-78 82h0m-79-54h0m-41 84h0m-57-114h0m4104 763h0m176-74h0m167 424h0m-81-30h0m-179-173h0m-32-111h0m-10 186h0m-2 21h0m-39-42h0m-17 154h0m-14-107h0m-23 103h0m-612-310h0m-14 139h0m-42 136h0m-19-197h0m-23 127h0m-29-165h0m-3 108h0m-76 59h0m-126 14h0m-536 60h0m-38 25h0m-57-67h0m-50-251h0m-11 339h0m-10-335h0m-92 61h0m-14 36h0m-3 213h0m-8-54h0m-44-22h0m-185 81h0m-549-97h0m-57 50h0m-27-54h0m-69-9h0m-35-204h0m-7 321h0m-33-155h0m-6-25h0m-10 55h0m-5-76h0m-8 231h0m-137-16h0m-804-269h0m-12 156h0m-10-189h0m-9 175h0m-71-87h0m-5-99h0m-3 285h0m0-109h0m-15-165h0m-12 33h0m-107 244h0m-80-75h0m123 275h0m227-116h0m840 35h0m57-32h0m108 25h0m18 29h0m34 9h0m750-68h0m23 83h0m96-29h0m893-36h0m80 28h0m48-38h0m692 132h0m1459 630h0m-3072-34h0m-32 58h0m-1050-39h0m-893 23h0m-199 231h0m88-191h0m3 64h0m135 26h0m637 148h0m115-123h0m130-23h0m10 87h0m51-149h0m3 143h0m123 59h0m637-176h0m42-42h0m157 91h0m17 26h0m776-41h0m14 186h0m64-43h0m134-252h0m64 198h0m698-4h0m7 188h0m3-226h0m1000-113h0m130 295h0m58-163h0m25-81h0m13-51h0m22 119h0m129-39h0m-174 577h0m-898-264h0m-1098 264h0m-238-265h0m-955 265h0m-750 0h0m-1382 0h0m19 424h0m69 0h0m230 0h0m4967 0h0m184 0h0m672 426h0m-2765 0h0m-276 0h0m-1605 0h0m-1339 0h0"/>
<path id="L23" d="M731 1571h0m-70-121h0m-31 116h0m-74-184h0m-97 162h0m-5-66h0m45 197h0m132 182h0m13-91h0m19 0h0m96 113h0m55-78h0m14 65h0m24-55h0m26-14h0m-223 834h0m97-38h0m20-154h0m789 175h0m75-168h0m142 102h0m2 218h0m57-30h0m14 111h0m-113 123h0m-161 8h0m-695-143h0m-19 254h0m-7-228h0m-33-26h0m-28 88h0m-28 194h0m-45 34h0m-2-265h0m-66 41h0m-6 25h0m-89 88h0m-98-68h0m-12-89h0m1127 676h0m115-10h0m1380 343h0m-208-2h0m-21-118h0m-7-39h0m-150-18h0m-31 67h0m-688 113h0m-25-3h0m-160-232h0m-14 34h0m-18 289h0m-22-50h0m-34-10h0m-14-200h0m-21-91h0m0 138h0m-35-111h0m-7 104h0m-697 127h0m-223-85h0m-26-75h0m-18 68h0m-1 57h0m-23 137h0m-21-136h0m-30 89h0m-20-103h0m-3 113h0m-59-349h0m-13 157h0m-40-86h0m47 349h0m54-23h0m24 149h0m101-146h0m106 3h0m118 98h0m530 33h0m243-106h0m110 33h0m28 2h0m42-61h0m62 41h0m111 109h0m1-135h0m518 59h0m14-71h0m17 20h0m125 151h0m7-26h0m31-59h0m-63 601h0m-19 426h0m945-41h0m68 49h0m87 34h0m283 141h0m-102 88h0m-20-134h0m-60 64h0m-322 86h0m-573-197h0m-219-13h0m-75 159h0m-164 62h0m-670-56h0m-53-149h0m-33-13h0m-750 117h0m-156 11h0m-102 15h0m-118-89h0m-10 86h0m-1-20h0m-53-57h0m-11-13h0m-15 95h0m-12-29h0m-71-8h0m-6-80h0m3461 523h0m1255 536h0m-292-8h0m-179 108h0m-57-260h0m-6 122h0m-74-165h0m-600 122h0m-10-117h0m-143 161h0m-10-172h0m-106 176h0m-13 48h0m-21-126h0m-45 200h0m-43-117h0m-36-5h0m-617 3h0m-32 23h0m-39-128h0m-97 176h0m-60 15h0m-15-152h0m-71 99h0m-27 65h0m-21 4h0m-491 36h0m-22-176h0m-36 142h0m-70-136h0m-42 64h0m-108 50h0m-24-73h0m-9 21h0m-9-280h0m-54 320h0m-93-55h0m-673 108h0m-50-290h0m-20 306h0m-10-105h0m-36-3h0m-5-138h0m-29-33h0m-144-41h0m-37 222h0m-32-114h0m3275 232h0m-30 761h0m-46-55h0m-850 17h0m-71-76h0m-164 120h0m-1915-6h0m-34 18h0m-5-27h0m-156-30h0m-18 323h0m34-231h0m121 21h0m35 116h0m38 7h0m11-164h0m2 148h0m46 185h0m27-194h0m7 25h0m773-66h0m37 86h0m107 21h0m35-30h0m99-11h0m611-174h0m53 69h0m4 107h0m88-116h0m15 17h0m45 93h0m265-172h0m516 313h0m143 59h0m1-127h0m123 56h0m34-32h0m6-108h0m88-35h0m15 157h0m185-67h0m387 24h0m50-108h0m10 102h0m0 79h0m67-263h0m29 108h0m37-64h0m963 206h0m6-189h0m87-15h0m36 172h0m41-176h0m6-39h0m12 88h0m25 36h0m23-3h0m-79 524h0m-160-263h0m-24 263h0m-1858 0h0m-161 0h0m-733 0h0m-23 0h0m-368 0h0m-1644-291h0m713 715h0m230 0h0m1971 0h0m2146 426h0m-3984 0h0"/>
<path id="L24" d="M813 1568h0m-223-21h0m-5-40h0m-130 83h0m-52-72h0m108 321h0m92-92h0m5 18h0m88 87h0m43-69h0m11-39h0m12-41h0m951 672h0m-1182-306h0m49 440h0m119-84h0m30 32h0m52 12h0m4 144h0m57 42h0m29-153h0m27-19h0m695 30h0m120 124h0m31-89h0m20 47h0m78-39h0m-124 306h0m-14 27h0m-22 52h0m-5 76h0m-64-80h0m-841-40h0m-14-57h0m-7 122h0m-21-19h0m-22-87h0m-125 0h0m-99 222h0m-7-201h0m2561 1064h0m-12-25h0m-99-11h0m-29-93h0m-39-48h0m-13-12h0m-57 100h0m-94 68h0m-29-291h0m-27 69h0m-98 19h0m-33 252h0m-643 6h0m-6-80h0m-98-224h0m-35 73h0m-14 163h0m0-23h0m-21 98h0m-16-318h0m-27 171h0m-66 42h0m-8-137h0m-14 153h0m-563 87h0m-175-127h0m-73-114h0m-11 19h0m-28 88h0m-7-23h0m0-134h0m-30 86h0m-53 178h0m-99-56h0m-74-271h0m150 523h0m122-43h0m54 23h0m1050 63h0m69-111h0m770-29h0m23-25h0m-2003 558h0m-54 547h0m150 47h0m1146-106h0m649-56h0m20 94h0m938 84h0m192-101h0m17-138h0m325 306h0m-288 60h0m-18-103h0m-10 184h0m-88 8h0m-29-200h0m-13 78h0m-69 75h0m-25-128h0m-592 62h0m-13 17h0m-150 2h0m-218-62h0m-571 92h0m-133-20h0m-21 92h0m-8-26h0m-49-154h0m-86 121h0m-844-48h0m-16-57h0m-13 117h0m-120-139h0m-142 148h0m-135-24h0m201 546h0m11 46h0m14 30h0m1066-78h0m2146 0h0m748 67h0m284 350h0m-209-180h0m-47 88h0m0-73h0m-22 80h0m-54-53h0m-589-1h0m-12-52h0m-24 220h0m-2-30h0m-26-39h0m-23-77h0m-32-73h0m-13 46h0m-5 184h0m-5-234h0m-33 8h0m-14 251h0m-3-114h0m-23-18h0m-72-174h0m-108 102h0m-506 89h0m-66-174h0m-32 81h0m-71 55h0m-3-118h0m-52 9h0m-18 217h0m-1-77h0m-82 130h0m-19-213h0m-85 134h0m-46-157h0m-5 170h0m-45-59h0m-705 85h0m-49-60h0m-15-16h0m-83-10h0m-37 37h0m-16-121h0m-18 199h0m-16-55h0m-785-209h0m-25 101h0m-33-207h0m-1 261h0m-33-113h0m-20-9h0m-58 69h0m-160 31h0m-2 187h0m205 24h0m29-25h0m889 15h0m149 336h0m930-374h0m235-2h0m897 46h0m685 3h0m1206 610h0m-11-148h0m-62 139h0m-1875 36h0m-847 78h0m-2240-37h0m-138 207h0m112-130h0m60 5h0m74 59h0m54 3h0m856 97h0m2 48h0m31 30h0m60-15h0m811-81h0m58 123h0m3-122h0m8-123h0m83 76h0m156 239h0m756-324h0m60-5h0m111 153h0m5 47h0m19-67h0m49-67h0m16 16h0m30 82h0m68-110h0m475 315h0m74-60h0m37-206h0m984 51h0m26-105h0m14 199h0m75-206h0m12 20h0m20 109h0m4 70h0m131-162h0m-165 597h0m-1223 0h0m-1846-264h0m-749 0h0m-1388 264h0m925 424h0m1299 0h0m1293 0h0m1676 0h0m1240 0h0m23 0h0m92 0h0m-292 426h0m-3894 0h0m-368 0h0"/>
<path id="L25" d="M685 1281h0m-125 198h0m-23-56h0m-34 41h0m-87 133h0m114 119h0m42-70h0m44-27h0m54 240h0m62-170h0m16 4h0m60 174h0m76-141h0m-217 948h0m2-233h0m2 21h0m54 183h0m38-91h0m56 96h0m29-89h0m74-79h0m685 167h0m173 25h0m12-197h0m234 495h0m-113-56h0m-2-51h0m-100 214h0m-8-244h0m-100 175h0m-129-194h0m-57 26h0m-604 140h0m-28 25h0m-25-165h0m-92-39h0m-49 257h0m-28-143h0m-3 77h0m-43-137h0m-91-40h0m-117 287h0m-12-44h0m2290 537h0m156-63h0m141 403h0m-21-259h0m-4 252h0m-24-215h0m-35 110h0m-43 94h0m-68-284h0m-17 337h0m-15 9h0m-63-168h0m-193 140h0m-521-97h0m-119 32h0m-56 63h0m-56 35h0m-84-39h0m-43-286h0m0 195h0m-46 101h0m0-82h0m-668 78h0m-66 43h0m-174-285h0m-24 175h0m-23-110h0m-5 175h0m-58-73h0m-93 104h0m109 50h0m27 65h0m205-75h0m621 109h0m336 120h0m88-226h0m37 153h0m139-29h0m454-149h0m143 127h0m58-5h0m173-49h0m105-49h0m726 659h0m-3267 508h0m151-76h0m83-98h0m69 115h0m1089-72h0m43-104h0m55 97h0m12 119h0m708-96h0m909-14h0m90-6h0m366 189h0m-85 1h0m-55 51h0m-246-2h0m-58-74h0m-22 0h0m-598 130h0m-115 13h0m-242-89h0m-33 32h0m-28 10h0m-562-26h0m-234-58h0m-27 167h0m-133-30h0m-717-76h0m-17 108h0m-25-201h0m-18 144h0m-38 41h0m-212-87h0m4499 621h0m88 186h0m-590 18h0m-49 271h0m-565-234h0m-106 75h0m-127-28h0m-113-36h0m-6 162h0m-19-119h0m-32 61h0m-529 77h0m-6-226h0m-29 209h0m-4-183h0m-79-1h0m-64 129h0m-44-83h0m-22-20h0m-51 87h0m-28 126h0m-52-269h0m-16 221h0m-635-80h0m-8 80h0m-38-131h0m-66-111h0m-4 158h0m-20-13h0m-42 28h0m-18 94h0m-1-309h0m-78 189h0m-25-67h0m-18 169h0m-21 8h0m-710-9h0m-195-13h0m-25-35h0m-24-135h0m-4-59h0m-38 59h0m-9-113h0m-78 179h0m-10-73h0m-103 238h0m99 138h0m1189-3h0m33-28h0m230-70h0m2599 4h0m1223 592h0m-2934 4h0m-1241 155h0m-1032 392h0m76-109h0m126-214h0m2-38h0m9 235h0m77-166h0m693 110h0m21-63h0m16 115h0m26-31h0m137-107h0m5-32h0m698 161h0m113 20h0m9-83h0m54-162h0m34 174h0m87 4h0m71-62h0m178-101h0m490 274h0m77 11h0m11 17h0m59-108h0m22 165h0m45-371h0m27 15h0m104 183h0m68-90h0m597 54h0m51-118h0m172 158h0m827-70h0m25 57h0m38 8h0m16 122h0m2-184h0m2-96h0m5 74h0m49-69h0m14 94h0m72-34h0m21 103h0m24-69h0m-295 542h0m-852-262h0m-194-26h0m-36 24h0m-845 264h0m-733 0h0m-202-263h0m-22-9h0m-70 8h0m-46 2h0m-46 0h0m-1911 686h0m115 0h0m883 0h0m69 0h0m1161 0h0m2992 0h0m1171 0h0m23 0h0m-1092 426h0m-2241 0h0m-23 0h0"/>
<path id="L26" d="M793 1541h0m-10-76h0m-108 78h0m-127-219h0m-18 183h0m-33 13h0m90 163h0m96-76h0m46 7h0m37 52h0m5-57h0m95-4h0m27 252h0m-219 636h0m52 71h0m2 128h0m151-62h0m14-112h0m4 102h0m41 76h0m656 21h0m45 12h0m20-286h0m30 153h0m43 33h0m8 68h0m284 146h0m-2 37h0m-72 61h0m-39-3h0m-23-122h0m-71 146h0m-127-57h0m-10 60h0m-69 30h0m-597 83h0m-91-211h0m-60 183h0m-20-168h0m-40 148h0m-59 18h0m-211-227h0m-67 238h0m15 510h0m151-95h0m87 107h0m854-115h0m159 129h0m1091-64h0m134 160h0m-29-3h0m-28 55h0m-39 80h0m-35 123h0m-9 20h0m-774 8h0m-45-40h0m-159-65h0m-5 63h0m-147-146h0m-888 48h0m-16 68h0m-68-257h0m-79 272h0m-8-230h0m-69-40h0m-68 313h0m-27-186h0m-42-155h0m84 467h0m126-11h0m236 197h0m146-113h0m610 17h0m115-98h0m145 32h0m156 60h0m477-134h0m90 196h0m8 29h0m63-183h0m2 17h0m208-57h0m-2329 1106h0m48-143h0m1136 58h0m21-75h0m14-120h0m148 264h0m722-78h0m131 136h0m969 7h0m57-63h0m52 57h0m91 126h0m-37-30h0m-133-44h0m-86-17h0m-16 139h0m-60-47h0m-664-35h0m-86 29h0m-19 34h0m-80-80h0m-206-57h0m-108 105h0m-454-87h0m-18 199h0m-54-68h0m-11 21h0m-1-171h0m-95 62h0m-8-14h0m-70 64h0m-29 62h0m-793-24h0m-65 1h0m-110-44h0m-2-33h0m-129 166h0m-35-6h0m-41-133h0m185 659h0m994-195h0m63 206h0m3074 237h0m-96 16h0m-92 8h0m-4 27h0m-69-143h0m-663 109h0m-17-24h0m-82-196h0m-38 161h0m-88-69h0m-19 83h0m-176 156h0m-489 58h0m-83-62h0m-96-101h0m-15 70h0m-2 84h0m-48-51h0m-69 28h0m-56-45h0m-55-66h0m-631-63h0m-161-114h0m-998 230h0m-14 65h0m-22-113h0m-21-87h0m-15 124h0m-25 62h0m-72-263h0m-10 130h0m-65-223h0m-122 218h0m121 276h0m1226-81h0m103 8h0m38 29h0m615-25h0m2083 42h0m-85 451h0m-709 0h0m-2128 253h0m-950 25h0m-80-278h0m-153 358h0m24 87h0m22 38h0m46-164h0m29 57h0m18 181h0m3-88h0m70 59h0m24-198h0m12 152h0m83 0h0m1-165h0m61 18h0m46 51h0m830 176h0m31-260h0m167 251h0m649-218h0m48 228h0m46-19h0m39-148h0m21 54h0m20-4h0m49 42h0m62-57h0m82-118h0m625 101h0m83 67h0m23-37h0m2-31h0m34-4h0m72 50h0m92 30h0m40-110h0m16 138h0m475-153h0m8 111h0m114-26h0m52 149h0m8-112h0m48-91h0m17 156h0m98-110h0m791-66h0m8 204h0m7-129h0m19-41h0m8-109h0m1 155h0m17-73h0m33 21h0m17 144h0m23-51h0m8-81h0m2 68h0m60 44h0m53-188h0m-41 377h0m-93 263h0m-1151-263h0m-876 0h0m-48-8h0m-136 6h0m-702 265h0m-12-278h0m-1218 702h0m1368 0h0m856 0h0m3031 0h0m-5932 426h0"/>
<path id="L27" d="M823 1585h0m-154-106h0m-25-118h0m-23 79h0m14 448h0m89-214h0m47 119h0m44-183h0m34 150h0m-332 700h0m100 49h0m67 250h0m21-180h0m14 169h0m23-264h0m59 66h0m9 81h0m46-158h0m44 71h0m0-86h0m706 301h0m0-165h0m19-103h0m40-79h0m4 141h0m143 123h0m34-43h0m18-59h0m105 446h0m-101 48h0m-5-111h0m-6-138h0m-53 66h0m-10-31h0m-44 157h0m-95-48h0m-56-55h0m-687-107h0m-43 121h0m-63 13h0m-61-113h0m-47 211h0m-36-166h0m-14 167h0m-20-180h0m-9 124h0m-64-116h0m-66 133h0m2163 591h0m387 149h0m-2 148h0m-38-72h0m-15 92h0m-49-100h0m-120-31h0m-59 27h0m-3 87h0m-5 74h0m-93-214h0m-68 241h0m-3-77h0m-24-170h0m-28 191h0m-650-23h0m-89-139h0m-54-102h0m-72 38h0m-37 23h0m-4 179h0m-120-200h0m-594 255h0m-231-211h0m-32-73h0m-23 169h0m-165 39h0m12 205h0m141 72h0m15 42h0m91-51h0m124-48h0m52 29h0m832-105h0m27 117h0m32-9h0m23 5h0m47 56h0m10-194h0m5 82h0m53 130h0m64 27h0m18-202h0m19 77h0m789-59h0m20 20h0m33 54h0m-2234 946h0m18 46h0m148 21h0m908-67h0m54 92h0m51 15h0m67-157h0m714 36h0m4-155h0m12 216h0m72 8h0m112-16h0m746 56h0m28-191h0m121 164h0m245 195h0m-30-43h0m-80-62h0m-815 106h0m-14 16h0m-212-125h0m-45 140h0m-59-167h0m-101 148h0m-90-40h0m-509 4h0m-47-26h0m-23 106h0m-57-11h0m-118-47h0m-944-102h0m-16 77h0m-87 3h0m-74 69h0m-126-131h0m-41 131h0m297 598h0m3836 10h0m41-31h0m124 41h0m-32 282h0m-70-264h0m-51 181h0m-2-187h0m-16 95h0m-30 29h0m-21-54h0m-430 239h0m-99-117h0m-4-35h0m-128 151h0m-135-99h0m-79 115h0m-53-85h0m-589 41h0m-70-70h0m-131-64h0m-263 140h0m-64 91h0m-480-89h0m-20 3h0m-57 44h0m-6-92h0m-49 82h0m-95-168h0m-3-80h0m-32 132h0m-965-26h0m-163-190h0m-48 199h0m-1 243h0m374-37h0m925 27h0m803-10h0m1024 352h0m87-323h0m873-58h0m1030 737h0m-2926 51h0m-916-36h0m-1217-59h0m-117 177h0m37 111h0m58-91h0m24 179h0m19 14h0m98-182h0m11 57h0m932-94h0m14 89h0m2-32h0m51 62h0m47-178h0m7 128h0m797-95h0m90 78h0m17-44h0m54 172h0m189-112h0m631-131h0m12 212h0m28-179h0m78 122h0m1-143h0m39 346h0m48-159h0m22 97h0m45-167h0m4-49h0m703 269h0m21-297h0m20 30h0m3 188h0m142 34h0m73-177h0m781 191h0m110-40h0m34-41h0m34-188h0m11 126h0m13-101h0m93 74h0m56 1h0m18-31h0m749 576h0m-1081 0h0m-1981-262h0m-23-3h0m-46 1h0m-1024 264h0m-560-262h0m-236 262h0m-46 0h0m-1226-264h0m300 688h0m2113 0h0m595 0h0m169 0h0m115 0h0m3038 426h0m-2020 0h0m-207 0h0m-3804 0h0m-23 0h0"/>
<path id="L28" d="M724 1466h0m-26 40h0m-4 84h0m-210 258h0m55-166h0m20 204h0m7-259h0m86 213h0m96-165h0m19 96h0m15-58h0m5 59h0m7-110h0m3 33h0m17-62h0m10 109h0m12 105h0m28-204h0m-361 414h0m53 671h0m5-156h0m17-164h0m126 40h0m31 298h0m0-34h0m95-97h0m41 148h0m32-116h0m701 48h0m80-34h0m63-47h0m3-141h0m79-45h0m6 349h0m114 130h0m-2 151h0m-55-95h0m-2-123h0m-101 264h0m-7-26h0m-28-184h0m-42-68h0m-49 213h0m-4-103h0m-34-117h0m-119 34h0m-753 237h0m-60-260h0m-89 132h0m-91-96h0m-117 195h0m2387 486h0m65 49h0m186 380h0m-118-187h0m-45-101h0m-4 229h0m-20-202h0m-3 160h0m-64-157h0m-47 163h0m-61-197h0m-30 189h0m-12 45h0m-31 49h0m-46-152h0m-519 51h0m-47 46h0m-68-33h0m-8 72h0m-178-46h0m-92 25h0m-792 31h0m-17-12h0m-70-29h0m-5-59h0m-21 37h0m-78-80h0m-12-165h0m-116 45h0m-11-74h0m-55 240h0m-22 10h0m225 213h0m12-62h0m92 63h0m18 229h0m31-150h0m107-86h0m6-31h0m705-1h0m41-47h0m123 195h0m33 65h0m124-151h0m595 112h0m38-69h0m-2011 911h0m141-81h0m25-72h0m1023 180h0m8-211h0m159 205h0m628 31h0m21-169h0m24 149h0m342 67h0m740 34h0m278-3h0m-77 130h0m-30-66h0m-53 103h0m-130-22h0m-2-126h0m-76 154h0m-42-78h0m-5 132h0m-695-138h0m-199-33h0m-12 98h0m-645-71h0m-42 88h0m-71-75h0m-3 88h0m-60-128h0m-46 104h0m-22 47h0m-952-8h0m-35-99h0m-38 103h0m-140-120h0m-100 9h0m-58 61h0m237 593h0m43 0h0m1050 8h0m3028 339h0m-57 31h0m-49-32h0m-3-277h0m-705 260h0m-122-26h0m-46 81h0m-17-136h0m0-39h0m-38 6h0m-19 179h0m-38 20h0m-11-14h0m-180-39h0m-522-60h0m-213 123h0m-2-357h0m-23 303h0m-23-225h0m-25 71h0m-21 210h0m-18-99h0m-89 106h0m-557-150h0m-59 93h0m-22 14h0m-24-122h0m-64 13h0m-6-28h0m-73-151h0m-49 15h0m-790 177h0m-172-43h0m-64-131h0m-8-47h0m-4 211h0m-24-114h0m-81 153h0m-20 49h0m-15-212h0m-125 170h0m1366 186h0m781 42h0m1886-61h0m27 74h0m1228 674h0m-1864-126h0m-958 130h0m-186-31h0m-2114 60h0m13 309h0m44-156h0m9 203h0m289-306h0m617 57h0m23-72h0m84 26h0m57 155h0m15-235h0m33 11h0m3 275h0m62 67h0m17-135h0m769 169h0m4-299h0m37 6h0m15 41h0m34 94h0m73-20h0m31-18h0m34-32h0m46 57h0m3 125h0m753-128h0m45-103h0m34-41h0m25 82h0m137 91h0m589-98h0m31 56h0m3-134h0m58 190h0m41 79h0m54-99h0m11-23h0m5-41h0m991 33h0m29-162h0m17-36h0m74 194h0m180-52h0m12 288h0m-305 263h0m-1912-264h0m-294 264h0m-730 0h0m-767-263h0m-1181 263h0m718 424h0m2985 0h0m1109 426h0m-1105 0h0m-2488 0h0"/>
<path id="L29" d="M791 1412h0m-49 40h0m-57 72h0m-33-202h0m-84-39h0m-14 230h0m-22 49h0m-12 428h0m7-335h0m59 50h0m2-74h0m118 114h0m246 70h0m-195 577h0m-210 70h0m34 7h0m34 7h0m19 94h0m73-63h0m37 224h0m28-57h0m52 102h0m12 11h0m92-237h0m717 120h0m10-42h0m31 102h0m13-21h0m9-115h0m102 139h0m61 122h0m-46 48h0m-129-33h0m-44 136h0m-65 58h0m-1-227h0m-780 1h0m-133 84h0m-88 634h0m2372 266h0m-39 150h0m-106 28h0m-33-189h0m-124-199h0m-50 293h0m-15-245h0m-25 32h0m-583 277h0m-55 1h0m-29-106h0m-98-30h0m-47 116h0m-100-159h0m-805 25h0m-6-68h0m-36 224h0m-51 11h0m-126-343h0m-3 99h0m-36 192h0m-12 38h0m-20-284h0m-29 187h0m-19 43h0m-33-224h0m220 434h0m64-102h0m42 34h0m46-7h0m71 52h0m18 21h0m658-3h0m33 101h0m56-127h0m1162 4h0m-2171 1010h0m23-8h0m99 25h0m972-58h0m4 45h0m45-57h0m114 47h0m780 10h0m283-32h0m626-31h0m50-27h0m220 340h0m-9 21h0m-148-43h0m-78-103h0m-11 21h0m-90-16h0m-657 147h0m-7-64h0m-8-62h0m-46 12h0m-124-66h0m-20 7h0m-12 24h0m-4 78h0m-33 57h0m-6-127h0m-43 154h0m-37-75h0m-7 21h0m-646-7h0m-22-4h0m-8-94h0m-74 70h0m-182 40h0m-672 55h0m-61-76h0m-100 11h0m-23-68h0m-7-33h0m-2 130h0m-34-78h0m-52 120h0m-90-125h0m-80 42h0m-9-129h0m-2 150h0m204 637h0m1123-11h0m2981 331h0m-134-123h0m-38 117h0m-56 10h0m-33-110h0m-23-86h0m-460 160h0m-6-97h0m-36 156h0m-137-216h0m-149 276h0m-57-61h0m-16-74h0m-165 60h0m-476-65h0m-59 22h0m-86-41h0m-13 137h0m-47-170h0m-7 89h0m-11-76h0m-89-36h0m-10 38h0m-14 108h0m-42-92h0m-3 125h0m-7 21h0m-73-42h0m-536 44h0m-188-282h0m-7 78h0m-35-60h0m-7 15h0m-36-97h0m-27 342h0m-887-119h0m-42-213h0m-58 272h0m-34 32h0m-27-94h0m-25 93h0m-32-150h0m-45-111h0m-87 130h0m-80 16h0m330 222h0m51-2h0m90 0h0m1055-25h0m775 67h0m62-94h0m808 10h0m134-8h0m49 41h0m738 36h0m1317 439h0m-123 262h0m-1-224h0m-5218 387h0m47 111h0m112-257h0m25 137h0m39-43h0m29 22h0m79 121h0m880-70h0m78 58h0m8 96h0m862-309h0m150 76h0m6-44h0m12 40h0m13-18h0m16 147h0m4-144h0m23 69h0m16-28h0m111-7h0m14 79h0m563-89h0m43 51h0m65-74h0m16 91h0m17-24h0m28 125h0m16 32h0m23-19h0m34-123h0m160-43h0m552 35h0m38 110h0m82-23h0m20-121h0m37 119h0m68-54h0m882 14h0m42-6h0m89-69h0m31-10h0m135 4h0m238 51h0m686 541h0m-92 0h0m-5919 0h0m-441 424h0m1090 0h0m1276 0h0m161 0h0m1017 0h0m2709 0h0m145 426h0m-846 0h0m-184 0h0m-875 0h0m-3109 0h0"/>
</defs>
<g transform="scale(.1)" fill="none" stroke-linecap="round">
<use href="#L0" stroke="#fff" stroke-width="43.0"/>
<use href="#L0" stroke="#0877bf" stroke-width="36.0"/>
<use href="#L1" stroke="#fff" stroke-width="43.0"/>
<use href="#L1" stroke="#0877bf" stroke-width="36.0"/>
<use href="#L2" stroke="#fff" stroke-width="43.0"/>
<use href="#L2" stroke="#0877bf" stroke-width="36.0"/>
<use href="#L3" stroke="#fff" stroke-width="43.0"/>
<use href="#L3" stroke="#0877bf" stroke-width="36.0"/>
<use href="#L4" stroke="#fff" stroke-width="43.0"/>
<use href="#L4" stroke="#0877bf" stroke-width="36.0"/>
<use href="#L5" stroke="#fff" stroke-width="43.0"/>
<use href="#L5" stroke="#0877bf" stroke-width="36.0"/>
<use href="#L6" stroke="#fff" stroke-width="43.0"/>
<use href="#L6" stroke="#0877bf" stroke-width="36.0"/>
<use href="#L7" stroke="#fff" stroke-width="43.0"/>
<use href="#L7" stroke="#0877bf" stroke-width="36.0"/>
<use href="#L8" stroke="#fff" stroke-width="43.0"/>
<use href="#L8" stroke="#0877bf" stroke-width="36.0"/>
<use href="#L9" stroke="#fff" stroke-width="43.0"/>
<use href="#L9" stroke="#0877bf" stroke-width="36.0"/>
<use href="#L10" stroke="#fff" stroke-width="43.0"/>
<use href="#L10" stroke="#0877bf" stroke-width="36.0"/>
<use href="#L11" stroke="#fff" stroke-width="43.0"/>
<use href="#L11" stroke="#0877bf" stroke-width="36.0"/>
<use href="#L12" stroke="#fff" stroke-width="43.0"/>
<use href="#L12" stroke="#0877bf" stroke-width="36.0"/>
<use href="#L13" stroke="#fff" stroke-width="43.0"/>
<use href="#L13" stroke="#0877bf" stroke-width="36.0"/>
<use href="#L14" stroke="#fff" stroke-width="43.0"/>
<use href="#L14" stroke="#0877bf" stroke-width="36.0"/>
<use href="#L15" stroke="#fff" stroke-width="43.0"/>
<use href="#L15" stroke="#0877bf" stroke-width="36.0"/>
<use href="#L16" stroke="#fff" stroke-width="43.0"/>
<use href="#L16" stroke="#0877bf" stroke-width="36.0"/>
<use href="#L17" stroke="#fff" stroke-width="43.0"/>
<use href="#L17" stroke="#0877bf" stroke-width="36.0"/>
<use href="#L18" stroke="#fff" stroke-width="43.0"/>
<use href="#L18" stroke="#0877bf" stroke-width="36.0"/>
<use href="#L19" stroke="#fff" stroke-width="43.0"/>
<use href="#L19" stroke="#0877bf" stroke-width="36.0"/>
<use href="#L20" stroke="#fff" stroke-width="43.0"/>
<use href="#L20" stroke="#0877bf" stroke-width="36.0"/>
<use href="#L21" stroke="#fff" stroke-width="43.0"/>
<use href="#L21" stroke="#0877bf" stroke-width="36.0"/>
<use href="#L22" stroke="#fff" stroke-width="43.0"/>
<use href="#L22" stroke="#0877bf" stroke-width="36.0"/>
<use href="#L23" stroke="#fff" stroke-width="43.0"/>
<use href="#L23" stroke="#0877bf" stroke-width="36.0"/>
<use href="#L24" stroke="#fff" stroke-width="43.0"/>
<use href="#L24" stroke="#0877bf" stroke-width="36.0"/>
<use href="#L25" stroke="#fff" stroke-width="43.0"/>
<use href="#L25" stroke="#0877bf" stroke-width="36.0"/>
<use href="#L26" stroke="#fff" stroke-width="43.0"/>
<use href="#L26" stroke="#0877bf" stroke-width="36.0"/>
<use href="#L27" stroke="#fff" stroke-width="43.0"/>
<use href="#L27" stroke="#0877bf" stroke-width="36.0"/>
<use href="#L28" stroke="#fff" stroke-width="43.0"/>
<use href="#L28" stroke="#0877bf" stroke-width="36.0"/>
<use href="#L29" stroke="#fff" stroke-width="43.0"/>
<use href="#L29" stroke="#0877bf" stroke-width="36.0"/>
</g>
<rect x="28.90" y="10.20" width="83.5" height="93.3" fill="none" stroke="#262626" stroke-width="1.2"/>
<rect x="131.57" y="10.20" width="83.5" height="93.3" fill="none" stroke="#262626" stroke-width="1.2"/>
<rect x="234.24" y="10.20" width="83.5" height="93.3" fill="none" stroke="#262626" stroke-width="1.2"/>
<rect x="336.91" y="10.20" width="83.5" height="93.3" fill="none" stroke="#262626" stroke-width="1.2"/>
<rect x="439.58" y="10.20" width="83.5" height="93.3" fill="none" stroke="#262626" stroke-width="1.2"/>
<rect x="542.25" y="10.20" width="83.5" height="93.3" fill="none" stroke="#262626" stroke-width="1.2"/>
<rect x="644.92" y="10.20" width="83.5" height="93.3" fill="none" stroke="#262626" stroke-width="1.2"/>
<rect x="747.59" y="10.20" width="83.5" height="93.3" fill="none" stroke="#262626" stroke-width="1.2"/>
<rect x="28.90" y="120.95" width="83.5" height="93.3" fill="none" stroke="#262626" stroke-width="1.2"/>
<rect x="131.57" y="120.95" width="83.5" height="93.3" fill="none" stroke="#262626" stroke-width="1.2"/>
<rect x="234.24" y="120.95" width="83.5" height="93.3" fill="none" stroke="#262626" stroke-width="1.2"/>
<rect x="336.91" y="120.95" width="83.5" height="93.3" fill="none" stroke="#262626" stroke-width="1.2"/>
<rect x="439.58" y="120.95" width="83.5" height="93.3" fill="none" stroke="#262626" stroke-width="1.2"/>
<rect x="542.25" y="120.95" width="83.5" height="93.3" fill="none" stroke="#262626" stroke-width="1.2"/>
<rect x="644.92" y="120.95" width="83.5" height="93.3" fill="none" stroke="#262626" stroke-width="1.2"/>
<rect x="747.59" y="120.95" width="83.5" height="93.3" fill="none" stroke="#262626" stroke-width="1.2"/>
<rect x="28.90" y="231.70" width="83.5" height="93.3" fill="none" stroke="#262626" stroke-width="1.2"/>
<rect x="131.57" y="231.70" width="83.5" height="93.3" fill="none" stroke="#262626" stroke-width="1.2"/>
<rect x="234.24" y="231.70" width="83.5" height="93.3" fill="none" stroke="#262626" stroke-width="1.2"/>
<rect x="336.91" y="231.70" width="83.5" height="93.3" fill="none" stroke="#262626" stroke-width="1.2"/>
<rect x="439.58" y="231.70" width="83.5" height="93.3" fill="none" stroke="#262626" stroke-width="1.2"/>
<rect x="542.25" y="231.70" width="83.5" height="93.3" fill="none" stroke="#262626" stroke-width="1.2"/>
<rect x="644.92" y="231.70" width="83.5" height="93.3" fill="none" stroke="#262626" stroke-width="1.2"/>
<rect x="747.59" y="231.70" width="83.5" height="93.3" fill="none" stroke="#262626" stroke-width="1.2"/>
<rect x="28.90" y="342.45" width="83.5" height="93.3" fill="none" stroke="#262626" stroke-width="1.2"/>
<rect x="131.57" y="342.45" width="83.5" height="93.3" fill="none" stroke="#262626" stroke-width="1.2"/>
<rect x="234.24" y="342.45" width="83.5" height="93.3" fill="none" stroke="#262626" stroke-width="1.2"/>
<rect x="336.91" y="342.45" width="83.5" height="93.3" fill="none" stroke="#262626" stroke-width="1.2"/>
<rect x="439.58" y="342.45" width="83.5" height="93.3" fill="none" stroke="#262626" stroke-width="1.2"/>
<rect x="542.25" y="342.45" width="83.5" height="93.3" fill="none" stroke="#262626" stroke-width="1.2"/>
<rect x="644.92" y="342.45" width="83.5" height="93.3" fill="none" stroke="#262626" stroke-width="1.2"/>
<rect x="747.59" y="342.45" width="83.5" height="93.3" fill="none" stroke="#262626" stroke-width="1.2"/>
<rect x="28.90" y="453.20" width="83.5" height="93.3" fill="none" stroke="#262626" stroke-width="1.2"/>
<rect x="131.57" y="453.20" width="83.5" height="93.3" fill="none" stroke="#262626" stroke-width="1.2"/>
<rect x="234.24" y="453.20" width="83.5" height="93.3" fill="none" stroke="#262626" stroke-width="1.2"/>
<rect x="336.91" y="453.20" width="83.5" height="93.3" fill="none" stroke="#262626" stroke-width="1.2"/>
<rect x="439.58" y="453.20" width="83.5" height="93.3" fill="none" stroke="#262626" stroke-width="1.2"/>
<rect x="542.25" y="453.20" width="83.5" height="93.3" fill="none" stroke="#262626" stroke-width="1.2"/>
<rect x="644.92" y="453.20" width="83.5" height="93.3" fill="none" stroke="#262626" stroke-width="1.2"/>
<rect x="747.59" y="453.20" width="83.5" height="93.3" fill="none" stroke="#262626" stroke-width="1.2"/>
<rect x="28.90" y="563.95" width="83.5" height="93.3" fill="none" stroke="#262626" stroke-width="1.2"/>
<rect x="131.57" y="563.95" width="83.5" height="93.3" fill="none" stroke="#262626" stroke-width="1.2"/>
<rect x="234.24" y="563.95" width="83.5" height="93.3" fill="none" stroke="#262626" stroke-width="1.2"/>
<rect x="336.91" y="563.95" width="83.5" height="93.3" fill="none" stroke="#262626" stroke-width="1.2"/>
<rect x="439.58" y="563.95" width="83.5" height="93.3" fill="none" stroke="#262626" stroke-width="1.2"/>
<rect x="542.25" y="563.95" width="83.5" height="93.3" fill="none" stroke="#262626" stroke-width="1.2"/>
<rect x="644.92" y="563.95" width="83.5" height="93.3" fill="none" stroke="#262626" stroke-width="1.2"/>
<rect x="747.59" y="563.95" width="83.5" height="93.3" fill="none" stroke="#262626" stroke-width="1.2"/>
<rect x="28.90" y="674.70" width="83.5" height="93.3" fill="none" stroke="#262626" stroke-width="1.2"/>
<rect x="131.57" y="674.70" width="83.5" height="93.3" fill="none" stroke="#262626" stroke-width="1.2"/>
<rect x="234.24" y="674.70" width="83.5" height="93.3" fill="none" stroke="#262626" stroke-width="1.2"/>
<rect x="336.91" y="674.70" width="83.5" height="93.3" fill="none" stroke="#262626" stroke-width="1.2"/>
<rect x="439.58" y="674.70" width="83.5" height="93.3" fill="none" stroke="#262626" stroke-width="1.2"/>
<rect x="542.25" y="674.70" width="83.5" height="93.3" fill="none" stroke="#262626" stroke-width="1.2"/>
<rect x="644.92" y="674.70" width="83.5" height="93.3" fill="none" stroke="#262626" stroke-width="1.2"/>
<rect x="747.59" y="674.70" width="83.5" height="93.3" fill="none" stroke="#262626" stroke-width="1.2"/>
<rect x="28.90" y="785.45" width="83.5" height="93.3" fill="none" stroke="#262626" stroke-width="1.2"/>
<rect x="131.57" y="785.45" width="83.5" height="93.3" fill="none" stroke="#262626" stroke-width="1.2"/>
<rect x="234.24" y="785.45" width="83.5" height="93.3" fill="none" stroke="#262626" stroke-width="1.2"/>
<rect x="336.91" y="785.45" width="83.5" height="93.3" fill="none" stroke="#262626" stroke-width="1.2"/>
<rect x="439.58" y="785.45" width="83.5" height="93.3" fill="none" stroke="#262626" stroke-width="1.2"/>
<rect x="542.25" y="785.45" width="83.5" height="93.3" fill="none" stroke="#262626" stroke-width="1.2"/>
<rect x="644.92" y="785.45" width="83.5" height="93.3" fill="none" stroke="#262626" stroke-width="1.2"/>
<rect x="747.59" y="785.45" width="83.5" height="93.3" fill="none" stroke="#262626" stroke-width="1.2"/>
<text transform="translate(21.0,58.15) rotate(-90) scale(1,1.02)" font-size="25.8" text-anchor="middle">Thrust</text>
<text transform="translate(21.0,168.90) rotate(-90) scale(1,1.02)" font-size="25.8" text-anchor="middle">RS</text>
<text transform="translate(21.0,279.65) rotate(-90) scale(1,1.02)" font-size="25.8" text-anchor="middle">Torque</text>
<text transform="translate(21.0,390.40) rotate(-90) scale(1,1.02)" font-size="25.8" text-anchor="middle">PR</text>
<text transform="translate(21.0,501.15) rotate(-90) scale(1,1.02)" font-size="25.8" text-anchor="middle">1#SSP</text>
<text transform="translate(21.0,611.90) rotate(-90) scale(1,1.02)" font-size="25.8" text-anchor="middle">2#SSP</text>
<text transform="translate(21.0,722.65) rotate(-90) scale(1,1.02)" font-size="25.8" text-anchor="middle">1#FP</text>
<text transform="translate(21.0,833.40) rotate(-90) scale(1,1.02)" font-size="25.8" text-anchor="middle">SR</text>
<text transform="translate(70.65,900.7) scale(1,1.02)" font-size="25.8" text-anchor="middle">Thrust</text>
<text transform="translate(173.32,900.7) scale(1,1.02)" font-size="25.8" text-anchor="middle">RS</text>
<text transform="translate(275.99,900.7) scale(1,1.02)" font-size="25.8" text-anchor="middle">Torque</text>
<text transform="translate(378.66,900.7) scale(1,1.02)" font-size="25.8" text-anchor="middle">PR</text>
<text transform="translate(481.33,900.7) scale(1,1.02)" font-size="25.8" text-anchor="middle">1#SSP</text>
<text transform="translate(584.00,900.7) scale(1,1.02)" font-size="25.8" text-anchor="middle">2#SSP</text>
<text transform="translate(686.67,900.7) scale(1,1.02)" font-size="25.8" text-anchor="middle">1#FP</text>
<text transform="translate(789.34,900.7) scale(1,1.02)" font-size="25.8" text-anchor="middle">SR</text>
<defs><linearGradient id="cb" x1="0" y1="0" x2="0" y2="1"><stop offset="0" stop-color="#ff0000"/><stop offset="0.5" stop-color="#ffffff"/><stop offset="1" stop-color="#0000ff"/></linearGradient></defs>
<rect x="848.3" y="10.3" width="13.0" height="868.7" fill="url(#cb)" stroke="#555" stroke-width="0.8"/>
<line x1="861.3" y1="10.30" x2="863.8" y2="10.30" stroke="#333" stroke-width="0.8"/>
<text transform="translate(865.6,19.70) scale(1,1.02)" font-size="25.8">1.00</text>
<line x1="861.3" y1="118.89" x2="863.8" y2="118.89" stroke="#333" stroke-width="0.8"/>
<text transform="translate(865.6,128.29) scale(1,1.02)" font-size="25.8">0.75</text>
<line x1="861.3" y1="227.48" x2="863.8" y2="227.48" stroke="#333" stroke-width="0.8"/>
<text transform="translate(865.6,236.88) scale(1,1.02)" font-size="25.8">0.50</text>
<line x1="861.3" y1="336.06" x2="863.8" y2="336.06" stroke="#333" stroke-width="0.8"/>
<text transform="translate(865.6,345.46) scale(1,1.02)" font-size="25.8">0.25</text>
<line x1="861.3" y1="444.65" x2="863.8" y2="444.65" stroke="#333" stroke-width="0.8"/>
<text transform="translate(865.6,454.05) scale(1,1.02)" font-size="25.8">0.00</text>
<line x1="861.3" y1="553.24" x2="863.8" y2="553.24" stroke="#333" stroke-width="0.8"/>
<text transform="translate(865.6,562.64) scale(1,1.02)" font-size="25.8">-0.25</text>
<line x1="861.3" y1="661.83" x2="863.8" y2="661.83" stroke="#333" stroke-width="0.8"/>
<text transform="translate(865.6,671.23) scale(1,1.02)" font-size="25.8">-0.50</text>
<line x1="861.3" y1="770.41" x2="863.8" y2="770.41" stroke="#333" stroke-width="0.8"/>
<text transform="translate(865.6,779.81) scale(1,1.02)" font-size="25.8">-0.75</text>
<line x1="861.3" y1="879.00" x2="863.8" y2="879.00" stroke="#333" stroke-width="0.8"/>
<text transform="translate(865.6,888.40) scale(1,1.02)" font-size="25.8">-1.00</text>
</svg></body></html>
